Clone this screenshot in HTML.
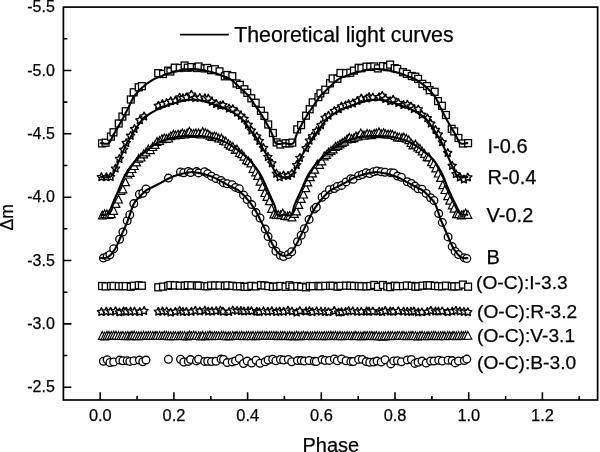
<!DOCTYPE html>
<html><head><meta charset="utf-8"><title>Light curves</title>
<style>html,body{margin:0;padding:0;background:#fff;} body{width:600px;height:452px;overflow:hidden;font-family:"Liberation Sans",sans-serif;} svg{display:block;will-change:transform}</style>
</head><body>
<svg width="600" height="452" viewBox="0 0 600 452" font-family="Liberation Sans, sans-serif" fill="#000">
<style>.m *{fill:#fff;stroke:#000;stroke-width:1.3} text{stroke:#000;stroke-width:0.25} .m .st{stroke-width:1.4;stroke-linejoin:round} .m .tr{stroke-width:1.15} .c .tr{stroke-width:1.2}</style>
<rect x="63.4" y="7.1" width="534.2" height="392.9" fill="none" stroke="#000" stroke-width="1.7"/><path d="M100.2,400.0 V392.3 M137.1,400.0 V396.0 M173.9,400.0 V392.3 M210.8,400.0 V396.0 M247.6,400.0 V392.3 M284.4,400.0 V396.0 M321.3,400.0 V392.3 M358.2,400.0 V396.0 M395.0,400.0 V392.3 M431.9,400.0 V396.0 M468.7,400.0 V392.3 M505.6,400.0 V396.0 M542.4,400.0 V392.3 M579.2,400.0 V396.0 M63.4,38.8 H67.4 M63.4,70.5 H71.4 M63.4,102.1 H67.4 M63.4,133.8 H71.4 M63.4,165.5 H67.4 M63.4,197.2 H71.4 M63.4,228.8 H67.4 M63.4,260.5 H71.4 M63.4,292.2 H67.4 M63.4,323.9 H71.4 M63.4,355.5 H67.4 M63.4,387.2 H71.4" stroke="#000" stroke-width="1.6" fill="none"/>
<g class="m c"><rect x="98.6" y="139.9" width="6.8" height="7.0"/><rect x="102.2" y="139.2" width="6.8" height="7.0"/><rect x="107.5" y="133.1" width="6.8" height="7.0"/><rect x="110.1" y="128.8" width="6.8" height="7.0"/><rect x="115.3" y="120.0" width="6.8" height="7.0"/><rect x="119.0" y="113.1" width="6.8" height="7.0"/><rect x="122.3" y="107.8" width="6.8" height="7.0"/><rect x="127.4" y="96.0" width="6.8" height="7.0"/><rect x="130.3" y="88.8" width="6.8" height="7.0"/><rect x="135.3" y="83.8" width="6.8" height="7.0"/><rect x="138.5" y="82.7" width="6.8" height="7.0"/><rect x="154.8" y="69.7" width="6.8" height="7.0"/><rect x="159.6" y="70.5" width="6.8" height="7.0"/><rect x="164.7" y="67.2" width="6.8" height="7.0"/><rect x="167.0" y="68.0" width="6.8" height="7.0"/><rect x="171.3" y="64.2" width="6.8" height="7.0"/><rect x="176.3" y="64.5" width="6.8" height="7.0"/><rect x="181.2" y="62.0" width="6.8" height="7.0"/><rect x="184.3" y="64.2" width="6.8" height="7.0"/><rect x="187.9" y="63.6" width="6.8" height="7.0"/><rect x="193.4" y="64.5" width="6.8" height="7.0"/><rect x="195.2" y="63.0" width="6.8" height="7.0"/><rect x="201.2" y="64.9" width="6.8" height="7.0"/><rect x="203.9" y="64.5" width="6.8" height="7.0"/><rect x="207.6" y="66.6" width="6.8" height="7.0"/><rect x="211.6" y="65.8" width="6.8" height="7.0"/><rect x="216.1" y="67.9" width="6.8" height="7.0"/><rect x="221.4" y="72.8" width="6.8" height="7.0"/><rect x="223.9" y="71.5" width="6.8" height="7.0"/><rect x="228.9" y="72.7" width="6.8" height="7.0"/><rect x="233.1" y="80.0" width="6.8" height="7.0"/><rect x="236.5" y="81.4" width="6.8" height="7.0"/><rect x="241.0" y="85.8" width="6.8" height="7.0"/><rect x="243.9" y="89.3" width="6.8" height="7.0"/><rect x="247.9" y="94.8" width="6.8" height="7.0"/><rect x="252.3" y="99.3" width="6.8" height="7.0"/><rect x="257.5" y="107.3" width="6.8" height="7.0"/><rect x="261.0" y="112.4" width="6.8" height="7.0"/><rect x="264.8" y="121.0" width="6.8" height="7.0"/><rect x="269.5" y="129.5" width="6.8" height="7.0"/><rect x="273.2" y="138.9" width="6.8" height="7.0"/><rect x="276.9" y="141.0" width="6.8" height="7.0"/><rect x="282.1" y="139.8" width="6.8" height="7.0"/><rect x="286.0" y="139.9" width="6.8" height="7.0"/><rect x="288.9" y="139.1" width="6.8" height="7.0"/><rect x="293.8" y="125.9" width="6.8" height="7.0"/><rect x="297.7" y="121.6" width="6.8" height="7.0"/><rect x="302.6" y="112.2" width="6.8" height="7.0"/><rect x="306.3" y="105.7" width="6.8" height="7.0"/><rect x="309.3" y="98.9" width="6.8" height="7.0"/><rect x="315.0" y="93.6" width="6.8" height="7.0"/><rect x="317.0" y="89.9" width="6.8" height="7.0"/><rect x="321.8" y="86.2" width="6.8" height="7.0"/><rect x="326.6" y="79.8" width="6.8" height="7.0"/><rect x="329.2" y="75.0" width="6.8" height="7.0"/><rect x="334.1" y="75.2" width="6.8" height="7.0"/><rect x="337.0" y="69.5" width="6.8" height="7.0"/><rect x="342.6" y="69.7" width="6.8" height="7.0"/><rect x="346.9" y="69.2" width="6.8" height="7.0"/><rect x="350.5" y="67.1" width="6.8" height="7.0"/><rect x="355.3" y="64.3" width="6.8" height="7.0"/><rect x="358.0" y="64.7" width="6.8" height="7.0"/><rect x="363.0" y="63.2" width="6.8" height="7.0"/><rect x="366.8" y="63.3" width="6.8" height="7.0"/><rect x="370.8" y="63.0" width="6.8" height="7.0"/><rect x="374.5" y="64.9" width="6.8" height="7.0"/><rect x="379.5" y="62.7" width="6.8" height="7.0"/><rect x="383.8" y="63.6" width="6.8" height="7.0"/><rect x="386.7" y="61.1" width="6.8" height="7.0"/><rect x="391.3" y="64.7" width="6.8" height="7.0"/><rect x="393.8" y="65.5" width="6.8" height="7.0"/><rect x="399.5" y="68.7" width="6.8" height="7.0"/><rect x="403.4" y="70.3" width="6.8" height="7.0"/><rect x="408.3" y="72.5" width="6.8" height="7.0"/><rect x="411.9" y="73.2" width="6.8" height="7.0"/><rect x="414.7" y="75.4" width="6.8" height="7.0"/><rect x="419.0" y="80.4" width="6.8" height="7.0"/><rect x="423.7" y="82.6" width="6.8" height="7.0"/><rect x="426.2" y="86.7" width="6.8" height="7.0"/><rect x="431.3" y="88.3" width="6.8" height="7.0"/><rect x="434.6" y="97.6" width="6.8" height="7.0"/><rect x="438.6" y="102.3" width="6.8" height="7.0"/><rect x="442.5" y="111.5" width="6.8" height="7.0"/><rect x="448.3" y="125.3" width="6.8" height="7.0"/><rect x="450.8" y="127.9" width="6.8" height="7.0"/><rect x="455.1" y="134.5" width="6.8" height="7.0"/><rect x="459.5" y="140.0" width="6.8" height="7.0"/><rect x="464.7" y="139.6" width="6.8" height="7.0"/></g><g class="m c"><polygon class="st" points="101.39,172.84 102.65,175.35 105.43,175.78 103.44,177.75 103.89,180.53 101.39,179.24 98.89,180.53 99.35,177.75 97.35,175.78 100.13,175.35"/><polygon class="st" points="106.34,172.87 107.60,175.38 110.38,175.80 108.39,177.78 108.84,180.55 106.34,179.27 103.84,180.55 104.30,177.78 102.30,175.80 105.08,175.38"/><polygon class="st" points="110.64,172.67 111.90,175.18 114.68,175.61 112.68,177.58 113.14,180.36 110.64,179.07 108.14,180.36 108.59,177.58 106.60,175.61 109.37,175.18"/><polygon class="st" points="115.50,164.31 116.77,166.82 119.55,167.24 117.55,169.22 118.00,171.99 115.50,170.71 113.01,171.99 113.46,169.22 111.46,167.24 114.24,166.82"/><polygon class="st" points="119.40,154.59 120.67,157.10 123.44,157.53 121.45,159.50 121.90,162.28 119.40,160.99 116.90,162.28 117.36,159.50 115.36,157.53 118.14,157.10"/><polygon class="st" points="123.56,145.46 124.83,147.97 127.61,148.40 125.61,150.37 126.06,153.15 123.56,151.86 121.07,153.15 121.52,150.37 119.52,148.40 122.30,147.97"/><polygon class="st" points="126.19,138.72 127.46,141.24 130.24,141.66 128.24,143.64 128.69,146.41 126.19,145.12 123.70,146.41 124.15,143.64 122.15,141.66 124.93,141.24"/><polygon class="st" points="130.58,131.54 131.84,134.05 134.62,134.47 132.62,136.45 133.08,139.23 130.58,137.94 128.08,139.23 128.53,136.45 126.54,134.47 129.32,134.05"/><polygon class="st" points="134.50,124.69 135.76,127.20 138.54,127.63 136.54,129.60 136.99,132.38 134.50,131.09 132.00,132.38 132.45,129.60 130.45,127.63 133.23,127.20"/><polygon class="st" points="139.83,115.96 141.09,118.47 143.87,118.90 141.87,120.88 142.32,123.65 139.83,122.36 137.33,123.65 137.78,120.88 135.78,118.90 138.56,118.47"/><polygon class="st" points="144.06,112.14 145.32,114.65 148.10,115.07 146.10,117.05 146.56,119.82 144.06,118.54 141.56,119.82 142.01,117.05 140.02,115.07 142.80,114.65"/><polygon class="st" points="158.31,101.48 159.57,103.99 162.35,104.42 160.36,106.40 160.81,109.17 158.31,107.88 155.81,109.17 156.27,106.40 154.27,104.42 157.05,103.99"/><polygon class="st" points="162.43,99.70 163.69,102.21 166.47,102.64 164.47,104.62 164.92,107.39 162.43,106.10 159.93,107.39 160.38,104.62 158.38,102.64 161.16,102.21"/><polygon class="st" points="166.62,98.71 167.88,101.22 170.66,101.64 168.66,103.62 169.11,106.39 166.62,105.11 164.12,106.39 164.57,103.62 162.57,101.64 165.35,101.22"/><polygon class="st" points="170.67,96.88 171.94,99.39 174.71,99.81 172.72,101.79 173.17,104.57 170.67,103.28 168.17,104.57 168.63,101.79 166.63,99.81 169.41,99.39"/><polygon class="st" points="175.34,96.59 176.60,99.10 179.38,99.53 177.38,101.51 177.84,104.28 175.34,102.99 172.84,104.28 173.29,101.51 171.30,99.53 174.07,99.10"/><polygon class="st" points="179.64,93.27 180.91,95.78 183.69,96.21 181.69,98.18 182.14,100.96 179.64,99.67 177.15,100.96 177.60,98.18 175.60,96.21 178.38,95.78"/><polygon class="st" points="182.90,93.81 184.17,96.32 186.95,96.75 184.95,98.72 185.40,101.50 182.90,100.21 180.41,101.50 180.86,98.72 178.86,96.75 181.64,96.32"/><polygon class="st" points="186.33,93.07 187.59,95.58 190.37,96.01 188.37,97.99 188.83,100.76 186.33,99.47 183.83,100.76 184.28,97.99 182.29,96.01 185.06,95.58"/><polygon class="st" points="191.39,90.36 192.65,92.87 195.43,93.30 193.44,95.28 193.89,98.05 191.39,96.76 188.89,98.05 189.35,95.28 187.35,93.30 190.13,92.87"/><polygon class="st" points="195.32,93.71 196.59,96.22 199.37,96.65 197.37,98.63 197.82,101.40 195.32,100.11 192.83,101.40 193.28,98.63 191.28,96.65 194.06,96.22"/><polygon class="st" points="199.86,93.53 201.12,96.04 203.90,96.47 201.90,98.45 202.35,101.22 199.86,99.93 197.36,101.22 197.81,98.45 195.81,96.47 198.59,96.04"/><polygon class="st" points="204.85,93.97 206.11,96.48 208.89,96.91 206.90,98.89 207.35,101.66 204.85,100.37 202.35,101.66 202.81,98.89 200.81,96.91 203.59,96.48"/><polygon class="st" points="208.27,94.35 209.53,96.86 212.31,97.28 210.31,99.26 210.76,102.03 208.27,100.75 205.77,102.03 206.22,99.26 204.22,97.28 207.00,96.86"/><polygon class="st" points="211.89,97.51 213.16,100.02 215.94,100.45 213.94,102.42 214.39,105.20 211.89,103.91 209.40,105.20 209.85,102.42 207.85,100.45 210.63,100.02"/><polygon class="st" points="216.19,99.62 217.46,102.13 220.24,102.56 218.24,104.54 218.69,107.31 216.19,106.02 213.70,107.31 214.15,104.54 212.15,102.56 214.93,102.13"/><polygon class="st" points="220.39,101.33 221.65,103.84 224.43,104.27 222.44,106.25 222.89,109.02 220.39,107.73 217.89,109.02 218.35,106.25 216.35,104.27 219.13,103.84"/><polygon class="st" points="222.93,100.84 224.20,103.36 226.97,103.78 224.98,105.76 225.43,108.53 222.93,107.24 220.43,108.53 220.89,105.76 218.89,103.78 221.67,103.36"/><polygon class="st" points="229.04,104.23 230.30,106.74 233.08,107.17 231.09,109.15 231.54,111.92 229.04,110.63 226.54,111.92 227.00,109.15 225.00,107.17 227.78,106.74"/><polygon class="st" points="232.80,104.82 234.07,107.33 236.85,107.76 234.85,109.73 235.30,112.51 232.80,111.22 230.31,112.51 230.76,109.73 228.76,107.76 231.54,107.33"/><polygon class="st" points="237.09,108.33 238.35,110.84 241.13,111.26 239.13,113.24 239.59,116.01 237.09,114.73 234.59,116.01 235.04,113.24 233.05,111.26 235.82,110.84"/><polygon class="st" points="240.95,111.47 242.22,113.98 245.00,114.41 243.00,116.39 243.45,119.16 240.95,117.87 238.46,119.16 238.91,116.39 236.91,114.41 239.69,113.98"/><polygon class="st" points="244.02,114.55 245.29,117.06 248.06,117.49 246.07,119.46 246.52,122.24 244.02,120.95 241.52,122.24 241.98,119.46 239.98,117.49 242.76,117.06"/><polygon class="st" points="248.09,120.48 249.36,122.99 252.13,123.41 250.14,125.39 250.59,128.16 248.09,126.88 245.59,128.16 246.05,125.39 244.05,123.41 246.83,122.99"/><polygon class="st" points="251.43,126.21 252.69,128.72 255.47,129.15 253.47,131.13 253.92,133.90 251.43,132.61 248.93,133.90 249.38,131.13 247.38,129.15 250.16,128.72"/><polygon class="st" points="256.77,132.24 258.03,134.75 260.81,135.18 258.82,137.16 259.27,139.93 256.77,138.64 254.27,139.93 254.73,137.16 252.73,135.18 255.51,134.75"/><polygon class="st" points="259.43,136.65 260.70,139.16 263.47,139.58 261.48,141.56 261.93,144.34 259.43,143.05 256.93,144.34 257.39,141.56 255.39,139.58 258.17,139.16"/><polygon class="st" points="263.50,143.73 264.76,146.25 267.54,146.67 265.54,148.65 266.00,151.42 263.50,150.13 261.00,151.42 261.45,148.65 259.46,146.67 262.24,146.25"/><polygon class="st" points="267.90,152.64 269.16,155.15 271.94,155.57 269.94,157.55 270.39,160.33 267.90,159.04 265.40,160.33 265.85,157.55 263.85,155.57 266.63,155.15"/><polygon class="st" points="271.84,159.08 273.10,161.59 275.88,162.02 273.88,164.00 274.33,166.77 271.84,165.48 269.34,166.77 269.79,164.00 267.79,162.02 270.57,161.59"/><polygon class="st" points="276.32,169.40 277.59,171.91 280.36,172.34 278.37,174.32 278.82,177.09 276.32,175.80 273.82,177.09 274.28,174.32 272.28,172.34 275.06,171.91"/><polygon class="st" points="279.68,173.02 280.94,175.53 283.72,175.95 281.72,177.93 282.17,180.71 279.68,179.42 277.18,180.71 277.63,177.93 275.63,175.95 278.41,175.53"/><polygon class="st" points="283.60,171.14 284.87,173.65 287.65,174.08 285.65,176.06 286.10,178.83 283.60,177.54 281.10,178.83 281.56,176.06 279.56,174.08 282.34,173.65"/><polygon class="st" points="288.02,171.67 289.29,174.18 292.07,174.61 290.07,176.58 290.52,179.36 288.02,178.07 285.53,179.36 285.98,176.58 283.98,174.61 286.76,174.18"/><polygon class="st" points="291.96,169.39 293.22,171.90 296.00,172.33 294.00,174.30 294.45,177.08 291.96,175.79 289.46,177.08 289.91,174.30 287.91,172.33 290.69,171.90"/><polygon class="st" points="296.65,160.85 297.91,163.36 300.69,163.79 298.69,165.76 299.15,168.54 296.65,167.25 294.15,168.54 294.60,165.76 292.61,163.79 295.38,163.36"/><polygon class="st" points="299.88,153.67 301.14,156.18 303.92,156.61 301.92,158.59 302.38,161.36 299.88,160.07 297.38,161.36 297.83,158.59 295.84,156.61 298.61,156.18"/><polygon class="st" points="306.00,143.92 307.26,146.43 310.04,146.85 308.04,148.83 308.49,151.61 306.00,150.32 303.50,151.61 303.95,148.83 301.95,146.85 304.73,146.43"/><polygon class="st" points="309.42,136.32 310.68,138.83 313.46,139.26 311.46,141.24 311.92,144.01 309.42,142.72 306.92,144.01 307.37,141.24 305.37,139.26 308.15,138.83"/><polygon class="st" points="312.34,132.04 313.60,134.55 316.38,134.98 314.38,136.96 314.84,139.73 312.34,138.44 309.84,139.73 310.29,136.96 308.30,134.98 311.07,134.55"/><polygon class="st" points="316.64,126.79 317.91,129.30 320.69,129.73 318.69,131.71 319.14,134.48 316.64,133.19 314.15,134.48 314.60,131.71 312.60,129.73 315.38,129.30"/><polygon class="st" points="320.93,120.97 322.19,123.48 324.97,123.91 322.97,125.89 323.43,128.66 320.93,127.37 318.43,128.66 318.88,125.89 316.89,123.91 319.67,123.48"/><polygon class="st" points="325.02,113.41 326.29,115.92 329.07,116.35 327.07,118.33 327.52,121.10 325.02,119.81 322.53,121.10 322.98,118.33 320.98,116.35 323.76,115.92"/><polygon class="st" points="328.49,111.43 329.75,113.94 332.53,114.37 330.53,116.35 330.99,119.12 328.49,117.83 325.99,119.12 326.44,116.35 324.45,114.37 327.23,113.94"/><polygon class="st" points="334.31,106.75 335.57,109.26 338.35,109.68 336.35,111.66 336.81,114.44 334.31,113.15 331.81,114.44 332.26,111.66 330.27,109.68 333.05,109.26"/><polygon class="st" points="338.71,104.88 339.98,107.39 342.76,107.82 340.76,109.80 341.21,112.57 338.71,111.28 336.22,112.57 336.67,109.80 334.67,107.82 337.45,107.39"/><polygon class="st" points="341.48,102.16 342.75,104.67 345.53,105.10 343.53,107.08 343.98,109.85 341.48,108.56 338.99,109.85 339.44,107.08 337.44,105.10 340.22,104.67"/><polygon class="st" points="345.58,101.07 346.85,103.58 349.62,104.00 347.63,105.98 348.08,108.76 345.58,107.47 343.08,108.76 343.54,105.98 341.54,104.00 344.32,103.58"/><polygon class="st" points="348.67,99.84 349.93,102.35 352.71,102.77 350.71,104.75 351.17,107.53 348.67,106.24 346.17,107.53 346.62,104.75 344.63,102.77 347.40,102.35"/><polygon class="st" points="352.76,99.10 354.02,101.61 356.80,102.04 354.81,104.01 355.26,106.79 352.76,105.50 350.26,106.79 350.72,104.01 348.72,102.04 351.50,101.61"/><polygon class="st" points="357.40,96.74 358.66,99.25 361.44,99.68 359.44,101.65 359.90,104.43 357.40,103.14 354.90,104.43 355.35,101.65 353.36,99.68 356.14,99.25"/><polygon class="st" points="361.26,94.18 362.53,96.69 365.30,97.11 363.31,99.09 363.76,101.86 361.26,100.58 358.76,101.86 359.22,99.09 357.22,97.11 360.00,96.69"/><polygon class="st" points="366.69,94.24 367.95,96.75 370.73,97.18 368.73,99.15 369.19,101.93 366.69,100.64 364.19,101.93 364.64,99.15 362.65,97.18 365.42,96.75"/><polygon class="st" points="369.12,92.80 370.38,95.32 373.16,95.74 371.16,97.72 371.62,100.49 369.12,99.20 366.62,100.49 367.07,97.72 365.08,95.74 367.85,95.32"/><polygon class="st" points="372.84,93.23 374.10,95.74 376.88,96.17 374.88,98.15 375.33,100.92 372.84,99.63 370.34,100.92 370.79,98.15 368.79,96.17 371.57,95.74"/><polygon class="st" points="379.15,92.90 380.41,95.41 383.19,95.84 381.19,97.82 381.64,100.59 379.15,99.30 376.65,100.59 377.10,97.82 375.10,95.84 377.88,95.41"/><polygon class="st" points="382.17,91.50 383.43,94.01 386.21,94.43 384.22,96.41 384.67,99.18 382.17,97.90 379.67,99.18 380.13,96.41 378.13,94.43 380.91,94.01"/><polygon class="st" points="385.30,94.61 386.56,97.12 389.34,97.54 387.34,99.52 387.79,102.29 385.30,101.01 382.80,102.29 383.25,99.52 381.25,97.54 384.03,97.12"/><polygon class="st" points="390.31,96.91 391.58,99.43 394.36,99.85 392.36,101.83 392.81,104.60 390.31,103.31 387.82,104.60 388.27,101.83 386.27,99.85 389.05,99.43"/><polygon class="st" points="393.11,95.43 394.38,97.94 397.15,98.37 395.16,100.35 395.61,103.12 393.11,101.83 390.61,103.12 391.07,100.35 389.07,98.37 391.85,97.94"/><polygon class="st" points="398.38,98.71 399.65,101.22 402.43,101.65 400.43,103.62 400.88,106.40 398.38,105.11 395.89,106.40 396.34,103.62 394.34,101.65 397.12,101.22"/><polygon class="st" points="403.53,100.70 404.80,103.21 407.58,103.64 405.58,105.62 406.03,108.39 403.53,107.10 401.04,108.39 401.49,105.62 399.49,103.64 402.27,103.21"/><polygon class="st" points="407.31,100.26 408.57,102.77 411.35,103.20 409.35,105.17 409.81,107.95 407.31,106.66 404.81,107.95 405.26,105.17 403.27,103.20 406.04,102.77"/><polygon class="st" points="410.95,102.18 412.22,104.69 415.00,105.12 413.00,107.09 413.45,109.87 410.95,108.58 408.46,109.87 408.91,107.09 406.91,105.12 409.69,104.69"/><polygon class="st" points="413.95,104.69 415.21,107.20 417.99,107.63 415.99,109.60 416.45,112.38 413.95,111.09 411.45,112.38 411.90,109.60 409.91,107.63 412.69,107.20"/><polygon class="st" points="418.26,105.11 419.52,107.62 422.30,108.05 420.30,110.03 420.76,112.80 418.26,111.51 415.76,112.80 416.22,110.03 414.22,108.05 417.00,107.62"/><polygon class="st" points="421.83,110.54 423.09,113.05 425.87,113.47 423.87,115.45 424.33,118.22 421.83,116.94 419.33,118.22 419.78,115.45 417.79,113.47 420.56,113.05"/><polygon class="st" points="427.35,113.93 428.62,116.44 431.39,116.87 429.40,118.85 429.85,121.62 427.35,120.33 424.85,121.62 425.31,118.85 423.31,116.87 426.09,116.44"/><polygon class="st" points="430.82,119.30 432.09,121.81 434.87,122.23 432.87,124.21 433.32,126.99 430.82,125.70 428.33,126.99 428.78,124.21 426.78,122.23 429.56,121.81"/><polygon class="st" points="435.48,125.57 436.74,128.08 439.52,128.51 437.52,130.48 437.97,133.26 435.48,131.97 432.98,133.26 433.43,130.48 431.43,128.51 434.21,128.08"/><polygon class="st" points="438.44,130.22 439.70,132.73 442.48,133.15 440.48,135.13 440.94,137.90 438.44,136.62 435.94,137.90 436.39,135.13 434.40,133.15 437.17,132.73"/><polygon class="st" points="442.23,137.94 443.50,140.45 446.27,140.88 444.28,142.86 444.73,145.63 442.23,144.34 439.73,145.63 440.19,142.86 438.19,140.88 440.97,140.45"/><polygon class="st" points="447.72,148.74 448.98,151.25 451.76,151.68 449.76,153.65 450.21,156.43 447.72,155.14 445.22,156.43 445.67,153.65 443.67,151.68 446.45,151.25"/><polygon class="st" points="452.19,161.50 453.46,164.01 456.23,164.43 454.24,166.41 454.69,169.19 452.19,167.90 449.69,169.19 450.15,166.41 448.15,164.43 450.93,164.01"/><polygon class="st" points="455.92,169.90 457.19,172.41 459.97,172.84 457.97,174.82 458.42,177.59 455.92,176.30 453.43,177.59 453.88,174.82 451.88,172.84 454.66,172.41"/><polygon class="st" points="459.86,173.18 461.13,175.69 463.91,176.11 461.91,178.09 462.36,180.87 459.86,179.58 457.37,180.87 457.82,178.09 455.82,176.11 458.60,175.69"/><polygon class="st" points="463.95,175.21 465.21,177.72 467.99,178.15 465.99,180.13 466.44,182.90 463.95,181.61 461.45,182.90 461.90,180.13 459.90,178.15 462.68,177.72"/><polygon class="st" points="467.81,173.12 469.07,175.63 471.85,176.06 469.85,178.04 470.31,180.81 467.81,179.52 465.31,180.81 465.76,178.04 463.77,176.06 466.55,175.63"/></g><g class="m c"><polygon class="tr" points="102.3,211.0 106.2,218.8 98.4,218.8"/><polygon class="tr" points="104.7,209.9 108.6,217.7 100.8,217.7"/><polygon class="tr" points="106.9,210.0 110.8,217.8 103.0,217.8"/><polygon class="tr" points="109.0,210.6 112.9,218.4 105.1,218.4"/><polygon class="tr" points="111.3,209.8 115.2,217.6 107.4,217.6"/><polygon class="tr" points="113.7,206.5 117.6,214.3 109.8,214.3"/><polygon class="tr" points="116.0,199.6 119.9,207.4 112.1,207.4"/><polygon class="tr" points="118.5,195.2 122.4,203.0 114.6,203.0"/><polygon class="tr" points="120.9,186.7 124.8,194.5 117.0,194.5"/><polygon class="tr" points="122.9,185.0 126.8,192.8 119.0,192.8"/><polygon class="tr" points="125.5,177.9 129.4,185.7 121.6,185.7"/><polygon class="tr" points="127.8,170.2 131.7,178.0 123.9,178.0"/><polygon class="tr" points="130.1,168.6 134.0,176.4 126.2,176.4"/><polygon class="tr" points="132.0,164.7 135.9,172.5 128.1,172.5"/><polygon class="tr" points="134.2,161.7 138.1,169.5 130.3,169.5"/><polygon class="tr" points="136.5,158.0 140.4,165.8 132.6,165.8"/><polygon class="tr" points="138.8,154.4 142.7,162.2 134.9,162.2"/><polygon class="tr" points="141.1,153.2 145.0,161.0 137.2,161.0"/><polygon class="tr" points="143.6,150.0 147.5,157.8 139.7,157.8"/><polygon class="tr" points="146.0,148.0 149.9,155.8 142.1,155.8"/><polygon class="tr" points="148.3,145.1 152.2,152.9 144.4,152.9"/><polygon class="tr" points="150.4,145.8 154.3,153.6 146.5,153.6"/><polygon class="tr" points="152.8,142.7 156.7,150.5 148.9,150.5"/><polygon class="tr" points="155.1,140.6 159.0,148.4 151.2,148.4"/><polygon class="tr" points="157.0,137.6 160.9,145.4 153.1,145.4"/><polygon class="tr" points="159.6,136.7 163.5,144.5 155.7,144.5"/><polygon class="tr" points="162.0,134.8 165.9,142.6 158.1,142.6"/><polygon class="tr" points="164.3,134.1 168.2,141.9 160.4,141.9"/><polygon class="tr" points="166.5,134.5 170.4,142.3 162.6,142.3"/><polygon class="tr" points="168.7,134.2 172.6,142.0 164.8,142.0"/><polygon class="tr" points="170.8,131.9 174.7,139.7 166.9,139.7"/><polygon class="tr" points="173.4,130.4 177.3,138.2 169.5,138.2"/><polygon class="tr" points="175.4,131.1 179.3,138.9 171.5,138.9"/><polygon class="tr" points="178.0,130.3 181.9,138.1 174.1,138.1"/><polygon class="tr" points="180.3,130.6 184.2,138.4 176.4,138.4"/><polygon class="tr" points="182.3,129.0 186.2,136.8 178.4,136.8"/><polygon class="tr" points="184.6,130.2 188.5,138.0 180.7,138.0"/><polygon class="tr" points="187.2,129.1 191.1,136.9 183.3,136.9"/><polygon class="tr" points="189.4,127.3 193.3,135.1 185.5,135.1"/><polygon class="tr" points="191.3,129.6 195.2,137.4 187.4,137.4"/><polygon class="tr" points="193.6,129.5 197.5,137.3 189.7,137.3"/><polygon class="tr" points="195.9,129.1 199.8,136.9 192.0,136.9"/><polygon class="tr" points="198.6,128.9 202.5,136.7 194.7,136.7"/><polygon class="tr" points="200.8,130.1 204.7,137.9 196.9,137.9"/><polygon class="tr" points="202.7,127.7 206.6,135.5 198.8,135.5"/><polygon class="tr" points="205.4,128.7 209.3,136.5 201.5,136.5"/><polygon class="tr" points="207.8,129.8 211.7,137.6 203.9,137.6"/><polygon class="tr" points="209.9,131.4 213.8,139.2 206.0,139.2"/><polygon class="tr" points="212.0,132.6 215.9,140.4 208.1,140.4"/><polygon class="tr" points="214.4,131.9 218.3,139.7 210.5,139.7"/><polygon class="tr" points="216.4,132.8 220.3,140.6 212.5,140.6"/><polygon class="tr" points="218.7,134.2 222.6,142.0 214.8,142.0"/><polygon class="tr" points="221.5,134.2 225.4,142.0 217.6,142.0"/><polygon class="tr" points="223.6,136.5 227.5,144.3 219.7,144.3"/><polygon class="tr" points="225.8,137.2 229.7,145.0 221.9,145.0"/><polygon class="tr" points="228.3,139.8 232.2,147.6 224.4,147.6"/><polygon class="tr" points="230.3,141.3 234.2,149.1 226.4,149.1"/><polygon class="tr" points="232.8,142.5 236.7,150.3 228.9,150.3"/><polygon class="tr" points="235.1,145.5 239.0,153.3 231.2,153.3"/><polygon class="tr" points="237.0,145.2 240.9,153.0 233.1,153.0"/><polygon class="tr" points="239.4,148.7 243.3,156.5 235.5,156.5"/><polygon class="tr" points="241.7,149.9 245.6,157.7 237.8,157.7"/><polygon class="tr" points="243.9,152.3 247.8,160.1 240.0,160.1"/><polygon class="tr" points="246.4,155.9 250.3,163.7 242.5,163.7"/><polygon class="tr" points="248.5,156.9 252.4,164.7 244.6,164.7"/><polygon class="tr" points="250.9,159.1 254.8,166.9 247.0,166.9"/><polygon class="tr" points="253.0,164.5 256.9,172.3 249.1,172.3"/><polygon class="tr" points="255.7,168.1 259.6,175.9 251.8,175.9"/><polygon class="tr" points="257.7,171.5 261.6,179.3 253.8,179.3"/><polygon class="tr" points="260.0,177.4 263.9,185.2 256.1,185.2"/><polygon class="tr" points="262.4,182.5 266.3,190.3 258.5,190.3"/><polygon class="tr" points="264.8,188.7 268.7,196.5 260.9,196.5"/><polygon class="tr" points="266.9,192.6 270.8,200.4 263.0,200.4"/><polygon class="tr" points="269.4,196.9 273.3,204.7 265.5,204.7"/><polygon class="tr" points="271.5,204.6 275.4,212.4 267.6,212.4"/><polygon class="tr" points="273.8,210.1 277.7,217.9 269.9,217.9"/><polygon class="tr" points="276.1,210.7 280.0,218.5 272.2,218.5"/><polygon class="tr" points="278.1,210.6 282.0,218.4 274.2,218.4"/><polygon class="tr" points="280.6,210.8 284.5,218.6 276.7,218.6"/><polygon class="tr" points="282.7,209.1 286.6,216.9 278.8,216.9"/><polygon class="tr" points="284.9,211.6 288.8,219.4 281.0,219.4"/><polygon class="tr" points="287.6,212.0 291.5,219.8 283.7,219.8"/><polygon class="tr" points="289.6,211.5 293.5,219.3 285.7,219.3"/><polygon class="tr" points="292.0,213.0 295.9,220.8 288.1,220.8"/><polygon class="tr" points="294.4,209.6 298.3,217.4 290.5,217.4"/><polygon class="tr" points="296.6,207.1 300.5,214.9 292.7,214.9"/><polygon class="tr" points="298.8,200.6 302.7,208.4 294.9,208.4"/><polygon class="tr" points="301.2,194.5 305.1,202.3 297.3,202.3"/><polygon class="tr" points="303.5,190.2 307.4,198.0 299.6,198.0"/><polygon class="tr" points="305.9,183.8 309.8,191.6 302.0,191.6"/><polygon class="tr" points="307.8,178.1 311.7,185.9 303.9,185.9"/><polygon class="tr" points="310.4,172.9 314.3,180.7 306.5,180.7"/><polygon class="tr" points="312.5,169.0 316.4,176.8 308.6,176.8"/><polygon class="tr" points="314.8,165.4 318.7,173.2 310.9,173.2"/><polygon class="tr" points="317.3,160.2 321.2,168.0 313.4,168.0"/><polygon class="tr" points="319.5,160.5 323.4,168.3 315.6,168.3"/><polygon class="tr" points="321.8,157.0 325.7,164.8 317.9,164.8"/><polygon class="tr" points="324.2,152.1 328.1,159.9 320.3,159.9"/><polygon class="tr" points="326.5,150.5 330.4,158.3 322.6,158.3"/><polygon class="tr" points="328.6,148.2 332.5,156.0 324.7,156.0"/><polygon class="tr" points="330.9,146.6 334.8,154.4 327.0,154.4"/><polygon class="tr" points="333.2,145.1 337.1,152.9 329.3,152.9"/><polygon class="tr" points="335.5,142.5 339.4,150.3 331.6,150.3"/><polygon class="tr" points="337.8,141.5 341.7,149.3 333.9,149.3"/><polygon class="tr" points="340.0,140.1 343.9,147.9 336.1,147.9"/><polygon class="tr" points="342.3,138.7 346.2,146.5 338.4,146.5"/><polygon class="tr" points="344.6,137.3 348.5,145.1 340.7,145.1"/><polygon class="tr" points="347.1,135.1 351.0,142.9 343.2,142.9"/><polygon class="tr" points="349.3,133.4 353.2,141.2 345.4,141.2"/><polygon class="tr" points="351.6,134.6 355.5,142.4 347.7,142.4"/><polygon class="tr" points="354.0,133.8 357.9,141.6 350.1,141.6"/><polygon class="tr" points="355.9,132.1 359.8,139.9 352.0,139.9"/><polygon class="tr" points="358.3,132.2 362.2,140.0 354.4,140.0"/><polygon class="tr" points="360.8,129.0 364.7,136.8 356.9,136.8"/><polygon class="tr" points="363.1,131.2 367.0,139.0 359.2,139.0"/><polygon class="tr" points="365.0,131.2 368.9,139.0 361.1,139.0"/><polygon class="tr" points="367.2,129.6 371.1,137.4 363.3,137.4"/><polygon class="tr" points="369.7,130.1 373.6,137.9 365.8,137.9"/><polygon class="tr" points="371.8,130.8 375.7,138.6 367.9,138.6"/><polygon class="tr" points="374.1,129.6 378.0,137.4 370.2,137.4"/><polygon class="tr" points="376.3,129.1 380.2,136.9 372.4,136.9"/><polygon class="tr" points="379.0,127.9 382.9,135.7 375.1,135.7"/><polygon class="tr" points="381.3,129.9 385.2,137.7 377.4,137.7"/><polygon class="tr" points="383.6,128.8 387.5,136.6 379.7,136.6"/><polygon class="tr" points="385.5,129.9 389.4,137.7 381.6,137.7"/><polygon class="tr" points="388.1,130.2 392.0,138.0 384.2,138.0"/><polygon class="tr" points="390.4,130.0 394.3,137.8 386.5,137.8"/><polygon class="tr" points="392.4,130.5 396.3,138.3 388.5,138.3"/><polygon class="tr" points="395.1,131.5 399.0,139.3 391.2,139.3"/><polygon class="tr" points="397.4,133.2 401.3,141.0 393.5,141.0"/><polygon class="tr" points="399.3,133.0 403.2,140.8 395.4,140.8"/><polygon class="tr" points="402.0,133.7 405.9,141.5 398.1,141.5"/><polygon class="tr" points="403.9,133.2 407.8,141.0 400.0,141.0"/><polygon class="tr" points="406.3,134.4 410.2,142.2 402.4,142.2"/><polygon class="tr" points="408.8,135.9 412.7,143.7 404.9,143.7"/><polygon class="tr" points="411.0,138.7 414.9,146.5 407.1,146.5"/><polygon class="tr" points="412.9,141.0 416.8,148.8 409.0,148.8"/><polygon class="tr" points="415.4,140.2 419.3,148.0 411.5,148.0"/><polygon class="tr" points="417.7,143.1 421.6,150.9 413.8,150.9"/><polygon class="tr" points="419.9,144.5 423.8,152.3 416.0,152.3"/><polygon class="tr" points="422.1,147.1 426.0,154.9 418.2,154.9"/><polygon class="tr" points="424.5,149.6 428.4,157.4 420.6,157.4"/><polygon class="tr" points="427.0,152.8 430.9,160.6 423.1,160.6"/><polygon class="tr" points="428.9,153.0 432.8,160.8 425.0,160.8"/><polygon class="tr" points="431.4,157.9 435.3,165.7 427.5,165.7"/><polygon class="tr" points="433.7,159.8 437.6,167.6 429.8,167.6"/><polygon class="tr" points="435.7,164.0 439.6,171.8 431.8,171.8"/><polygon class="tr" points="438.2,169.2 442.1,177.0 434.3,177.0"/><polygon class="tr" points="440.6,173.6 444.5,181.4 436.7,181.4"/><polygon class="tr" points="442.8,180.9 446.7,188.7 438.9,188.7"/><polygon class="tr" points="444.9,185.7 448.8,193.5 441.0,193.5"/><polygon class="tr" points="447.7,191.9 451.6,199.7 443.8,199.7"/><polygon class="tr" points="449.8,196.3 453.7,204.1 445.9,204.1"/><polygon class="tr" points="452.2,201.0 456.1,208.8 448.3,208.8"/><polygon class="tr" points="454.0,204.4 457.9,212.2 450.1,212.2"/><polygon class="tr" points="456.4,209.9 460.3,217.7 452.5,217.7"/><polygon class="tr" points="458.6,209.8 462.5,217.6 454.7,217.6"/><polygon class="tr" points="461.3,211.0 465.2,218.8 457.4,218.8"/><polygon class="tr" points="463.3,210.5 467.2,218.3 459.4,218.3"/><polygon class="tr" points="465.5,209.1 469.4,216.9 461.6,216.9"/><polygon class="tr" points="467.9,210.5 471.8,218.3 464.0,218.3"/></g><g class="m c"><circle cx="103.4" cy="258.1" r="3.85"/><circle cx="107.2" cy="256.6" r="3.85"/><circle cx="109.9" cy="254.7" r="3.85"/><circle cx="113.7" cy="248.8" r="3.85"/><circle cx="119.6" cy="239.3" r="3.85"/><circle cx="122.9" cy="232.0" r="3.85"/><circle cx="127.2" cy="220.8" r="3.85"/><circle cx="129.8" cy="214.7" r="3.85"/><circle cx="133.8" cy="203.6" r="3.85"/><circle cx="139.4" cy="194.2" r="3.85"/><circle cx="142.8" cy="193.3" r="3.85"/><circle cx="146.0" cy="189.0" r="3.85"/><circle cx="180.5" cy="172.0" r="3.85"/><circle cx="183.8" cy="172.8" r="3.85"/><circle cx="188.3" cy="171.5" r="3.85"/><circle cx="190.6" cy="172.6" r="3.85"/><circle cx="196.5" cy="171.6" r="3.85"/><circle cx="198.6" cy="172.9" r="3.85"/><circle cx="204.6" cy="171.7" r="3.85"/><circle cx="207.7" cy="173.6" r="3.85"/><circle cx="211.5" cy="176.2" r="3.85"/><circle cx="216.0" cy="178.5" r="3.85"/><circle cx="221.0" cy="180.4" r="3.85"/><circle cx="223.5" cy="182.7" r="3.85"/><circle cx="227.2" cy="183.7" r="3.85"/><circle cx="232.2" cy="184.8" r="3.85"/><circle cx="235.5" cy="187.4" r="3.85"/><circle cx="239.3" cy="188.8" r="3.85"/><circle cx="243.5" cy="194.9" r="3.85"/><circle cx="247.2" cy="199.5" r="3.85"/><circle cx="251.7" cy="204.6" r="3.85"/><circle cx="256.0" cy="212.6" r="3.85"/><circle cx="260.0" cy="218.0" r="3.85"/><circle cx="265.2" cy="229.1" r="3.85"/><circle cx="268.1" cy="236.6" r="3.85"/><circle cx="272.7" cy="244.0" r="3.85"/><circle cx="275.9" cy="251.3" r="3.85"/><circle cx="280.4" cy="255.4" r="3.85"/><circle cx="283.6" cy="256.5" r="3.85"/><circle cx="288.3" cy="254.5" r="3.85"/><circle cx="291.7" cy="251.7" r="3.85"/><circle cx="297.5" cy="241.8" r="3.85"/><circle cx="301.2" cy="235.2" r="3.85"/><circle cx="304.3" cy="228.7" r="3.85"/><circle cx="309.1" cy="219.4" r="3.85"/><circle cx="314.3" cy="209.0" r="3.85"/><circle cx="316.3" cy="207.3" r="3.85"/><circle cx="322.1" cy="197.2" r="3.85"/><circle cx="325.2" cy="194.7" r="3.85"/><circle cx="329.4" cy="189.8" r="3.85"/><circle cx="334.3" cy="188.5" r="3.85"/><circle cx="337.3" cy="186.4" r="3.85"/><circle cx="341.6" cy="185.4" r="3.85"/><circle cx="346.1" cy="181.9" r="3.85"/><circle cx="350.8" cy="178.8" r="3.85"/><circle cx="353.3" cy="179.3" r="3.85"/><circle cx="358.6" cy="175.7" r="3.85"/><circle cx="362.3" cy="174.5" r="3.85"/><circle cx="366.2" cy="172.7" r="3.85"/><circle cx="369.7" cy="173.5" r="3.85"/><circle cx="373.6" cy="171.7" r="3.85"/><circle cx="377.0" cy="170.9" r="3.85"/><circle cx="381.2" cy="171.7" r="3.85"/><circle cx="385.1" cy="172.2" r="3.85"/><circle cx="390.8" cy="172.8" r="3.85"/><circle cx="393.7" cy="172.9" r="3.85"/><circle cx="397.5" cy="176.1" r="3.85"/><circle cx="401.4" cy="177.3" r="3.85"/><circle cx="407.3" cy="181.7" r="3.85"/><circle cx="411.4" cy="183.5" r="3.85"/><circle cx="414.9" cy="186.1" r="3.85"/><circle cx="418.1" cy="188.8" r="3.85"/><circle cx="422.0" cy="189.3" r="3.85"/><circle cx="426.2" cy="193.4" r="3.85"/><circle cx="430.6" cy="197.8" r="3.85"/><circle cx="434.0" cy="200.5" r="3.85"/><circle cx="438.7" cy="213.6" r="3.85"/><circle cx="442.3" cy="222.4" r="3.85"/><circle cx="448.1" cy="236.9" r="3.85"/><circle cx="452.2" cy="246.6" r="3.85"/><circle cx="455.2" cy="251.4" r="3.85"/><circle cx="458.5" cy="254.6" r="3.85"/><circle cx="464.3" cy="257.8" r="3.85"/><circle cx="466.8" cy="258.5" r="3.85"/><circle cx="168.4" cy="178.1" r="3.85"/></g>
<path d="M100.2,143.0 L101.2,143.1 L102.2,143.2 L103.2,143.4 L104.2,143.6 L105.2,143.7 L106.2,143.8 L107.2,143.7 L108.2,143.4 L109.2,142.9 L110.2,141.5 L111.2,139.5 L112.2,137.2 L113.2,135.1 L114.2,133.4 L115.2,131.7 L116.2,130.1 L117.2,128.4 L118.2,126.7 L119.2,124.9 L120.2,123.2 L121.2,121.4 L122.2,119.6 L123.2,117.8 L124.2,115.9 L125.2,114.0 L126.2,112.1 L127.2,110.1 L128.2,108.1 L129.2,106.0 L130.2,103.9 L131.2,101.8 L132.2,99.7 L133.2,97.8 L134.2,96.3 L135.2,94.9 L136.2,93.7 L137.2,92.6 L138.2,91.5 L139.2,90.4 L140.2,89.4 L141.2,88.5 L142.2,87.6 L143.2,86.7 L144.2,85.9 L145.2,85.1 L146.2,84.3 L147.2,83.5 L148.2,82.8 L149.2,82.1 L150.2,81.4 L151.2,80.8 L152.2,80.2 L153.2,79.6 L154.2,79.1 L155.2,78.6 L156.2,78.1 L157.2,77.7 L158.2,77.3 L159.2,77.0 L160.2,76.6 L161.2,76.2 L162.2,75.9 L163.2,75.4 L164.2,75.0 L165.2,74.6 L166.2,74.2 L167.2,73.9 L168.2,73.5 L169.2,73.2 L170.2,73.0 L171.2,72.7 L172.2,72.4 L173.2,72.2 L174.2,71.9 L175.2,71.6 L176.2,71.4 L177.2,71.1 L178.2,70.9 L179.2,70.6 L180.2,70.4 L181.2,70.2 L182.2,70.0 L183.2,69.9 L184.2,69.7 L185.2,69.6 L186.2,69.4 L187.2,69.3 L188.2,69.2 L189.2,69.2 L190.2,69.1 L191.2,69.0 L192.2,69.0 L193.2,69.0 L194.2,69.1 L195.2,69.1 L196.2,69.2 L197.2,69.3 L198.2,69.4 L199.2,69.5 L200.2,69.7 L201.2,69.8 L202.2,70.0 L203.2,70.2 L204.2,70.4 L205.2,70.6 L206.2,70.8 L207.2,71.1 L208.2,71.3 L209.2,71.6 L210.2,71.8 L211.2,72.1 L212.2,72.4 L213.2,72.6 L214.2,72.9 L215.2,73.2 L216.2,73.5 L217.2,73.8 L218.2,74.2 L219.2,74.5 L220.2,74.9 L221.2,75.3 L222.2,75.8 L223.2,76.1 L224.2,76.5 L225.2,76.8 L226.2,77.1 L227.2,77.5 L228.2,77.9 L229.2,78.4 L230.2,79.1 L231.2,79.8 L232.2,80.6 L233.2,81.5 L234.2,82.3 L235.2,83.2 L236.2,84.1 L237.2,85.0 L238.2,85.9 L239.2,86.9 L240.2,87.8 L241.2,88.8 L242.2,89.8 L243.2,90.8 L244.2,91.7 L245.2,92.6 L246.2,93.5 L247.2,94.4 L248.2,95.5 L249.2,96.7 L250.2,98.0 L251.2,99.4 L252.2,100.9 L253.2,102.4 L254.2,104.0 L255.2,105.5 L256.2,106.9 L257.2,108.3 L258.2,109.7 L259.2,111.2 L260.2,112.7 L261.2,114.2 L262.2,115.8 L263.2,117.5 L264.2,119.2 L265.2,120.9 L266.2,122.7 L267.2,124.5 L268.2,126.3 L269.2,128.1 L270.2,130.0 L271.2,132.1 L272.2,134.2 L273.2,137.1 L274.2,140.4 L275.2,142.7 L276.2,143.5 L277.2,143.9 L278.2,144.0 L279.2,144.0 L280.2,143.9 L281.2,143.7 L282.2,143.5 L283.2,143.4 L284.2,143.3 L285.2,143.3 L286.2,143.5 L287.2,143.6 L288.2,143.8 L289.2,144.0 L290.2,144.1 L291.2,144.0 L292.2,143.7 L293.2,143.2 L294.2,141.8 L295.2,138.8 L296.2,135.5 L297.2,133.1 L298.2,131.0 L299.2,129.1 L300.2,127.2 L301.2,125.4 L302.2,123.6 L303.2,121.8 L304.2,120.0 L305.2,118.3 L306.2,116.7 L307.2,115.0 L308.2,113.4 L309.2,111.9 L310.2,110.5 L311.2,109.0 L312.2,107.6 L313.2,106.2 L314.2,104.7 L315.2,103.2 L316.2,101.7 L317.2,100.1 L318.2,98.7 L319.2,97.3 L320.2,96.0 L321.2,94.9 L322.2,93.9 L323.2,93.0 L324.2,92.1 L325.2,91.2 L326.2,90.3 L327.2,89.3 L328.2,88.3 L329.2,87.4 L330.2,86.4 L331.2,85.4 L332.2,84.5 L333.2,83.6 L334.2,82.8 L335.2,81.9 L336.2,81.0 L337.2,80.2 L338.2,79.5 L339.2,78.8 L340.2,78.2 L341.2,77.7 L342.2,77.3 L343.2,77.0 L344.2,76.7 L345.2,76.3 L346.2,75.9 L347.2,75.5 L348.2,75.1 L349.2,74.7 L350.2,74.3 L351.2,74.0 L352.2,73.6 L353.2,73.3 L354.2,73.0 L355.2,72.8 L356.2,72.5 L357.2,72.2 L358.2,72.0 L359.2,71.7 L360.2,71.4 L361.2,71.2 L362.2,70.9 L363.2,70.7 L364.2,70.5 L365.2,70.3 L366.2,70.1 L367.2,69.9 L368.2,69.7 L369.2,69.6 L370.2,69.5 L371.2,69.4 L372.2,69.3 L373.2,69.2 L374.2,69.1 L375.2,69.1 L376.2,69.0 L377.2,69.0 L378.2,69.1 L379.2,69.1 L380.2,69.2 L381.2,69.3 L382.2,69.4 L383.2,69.5 L384.2,69.6 L385.2,69.8 L386.2,70.0 L387.2,70.1 L388.2,70.3 L389.2,70.5 L390.2,70.8 L391.2,71.0 L392.2,71.2 L393.2,71.5 L394.2,71.8 L395.2,72.0 L396.2,72.3 L397.2,72.6 L398.2,72.8 L399.2,73.1 L400.2,73.4 L401.2,73.7 L402.2,74.1 L403.2,74.4 L404.2,74.8 L405.2,75.2 L406.2,75.6 L407.2,76.0 L408.2,76.4 L409.2,76.8 L410.2,77.1 L411.2,77.5 L412.2,77.9 L413.2,78.3 L414.2,78.8 L415.2,79.3 L416.2,79.9 L417.2,80.5 L418.2,81.1 L419.2,81.7 L420.2,82.4 L421.2,83.1 L422.2,83.9 L423.2,84.7 L424.2,85.5 L425.2,86.3 L426.2,87.2 L427.2,88.0 L428.2,88.9 L429.2,89.9 L430.2,90.9 L431.2,92.0 L432.2,93.1 L433.2,94.3 L434.2,95.6 L435.2,97.0 L436.2,98.7 L437.2,100.7 L438.2,102.8 L439.2,105.0 L440.2,107.1 L441.2,109.1 L442.2,111.1 L443.2,113.0 L444.2,115.0 L445.2,116.8 L446.2,118.7 L447.2,120.5 L448.2,122.3 L449.2,124.0 L450.2,125.8 L451.2,127.5 L452.2,129.2 L453.2,130.9 L454.2,132.5 L455.2,134.2 L456.2,136.1 L457.2,138.3 L458.2,140.5 L459.2,142.3 L460.2,143.2 L461.2,143.6 L462.2,143.8 L463.2,143.8 L464.2,143.7 L465.2,143.5 L466.2,143.3 L467.2,143.1 L468.2,143.0" fill="none" stroke="#000" stroke-width="2.1"/><path d="M100.2,177.0 L101.2,177.0 L102.2,177.1 L103.2,177.1 L104.2,177.2 L105.2,177.2 L106.2,177.2 L107.2,177.1 L108.2,177.0 L109.2,176.9 L110.2,176.7 L111.2,176.2 L112.2,175.4 L113.2,173.9 L114.2,171.9 L115.2,169.7 L116.2,167.3 L117.2,165.0 L118.2,162.7 L119.2,160.4 L120.2,158.1 L121.2,155.8 L122.2,153.6 L123.2,151.4 L124.2,149.1 L125.2,146.9 L126.2,144.6 L127.2,142.6 L128.2,140.9 L129.2,139.5 L130.2,137.9 L131.2,136.1 L132.2,134.2 L133.2,132.6 L134.2,131.1 L135.2,129.6 L136.2,128.0 L137.2,126.5 L138.2,125.1 L139.2,123.6 L140.2,122.3 L141.2,120.9 L142.2,119.7 L143.2,118.5 L144.2,117.6 L145.2,116.8 L146.2,116.1 L147.2,115.4 L148.2,114.8 L149.2,114.1 L150.2,113.5 L151.2,112.9 L152.2,112.3 L153.2,111.7 L154.2,111.2 L155.2,110.6 L156.2,110.1 L157.2,109.6 L158.2,109.2 L159.2,108.7 L160.2,108.3 L161.2,107.9 L162.2,107.5 L163.2,107.2 L164.2,106.8 L165.2,106.4 L166.2,106.0 L167.2,105.6 L168.2,105.2 L169.2,104.8 L170.2,104.5 L171.2,104.1 L172.2,103.8 L173.2,103.5 L174.2,103.2 L175.2,102.9 L176.2,102.7 L177.2,102.4 L178.2,102.1 L179.2,101.8 L180.2,101.5 L181.2,101.2 L182.2,100.9 L183.2,100.7 L184.2,100.5 L185.2,100.3 L186.2,100.2 L187.2,100.0 L188.2,99.9 L189.2,99.8 L190.2,99.7 L191.2,99.6 L192.2,99.5 L193.2,99.6 L194.2,99.6 L195.2,99.7 L196.2,99.9 L197.2,100.0 L198.2,100.1 L199.2,100.3 L200.2,100.5 L201.2,100.7 L202.2,100.9 L203.2,101.1 L204.2,101.4 L205.2,101.7 L206.2,102.0 L207.2,102.3 L208.2,102.6 L209.2,102.9 L210.2,103.1 L211.2,103.4 L212.2,103.7 L213.2,104.0 L214.2,104.4 L215.2,104.7 L216.2,105.1 L217.2,105.5 L218.2,105.9 L219.2,106.3 L220.2,106.7 L221.2,107.1 L222.2,107.4 L223.2,107.8 L224.2,108.2 L225.2,108.6 L226.2,109.1 L227.2,109.5 L228.2,110.0 L229.2,110.5 L230.2,111.0 L231.2,111.6 L232.2,112.1 L233.2,112.7 L234.2,113.3 L235.2,114.0 L236.2,114.6 L237.2,115.3 L238.2,116.0 L239.2,116.6 L240.2,117.4 L241.2,118.3 L242.2,119.4 L243.2,120.5 L244.2,121.7 L245.2,123.0 L246.2,124.3 L247.2,125.7 L248.2,127.1 L249.2,128.4 L250.2,129.8 L251.2,131.1 L252.2,132.4 L253.2,133.7 L254.2,135.0 L255.2,136.3 L256.2,137.7 L257.2,139.1 L258.2,140.7 L259.2,142.3 L260.2,144.1 L261.2,145.8 L262.2,147.5 L263.2,149.1 L264.2,150.7 L265.2,152.4 L266.2,154.1 L267.2,155.9 L268.2,157.8 L269.2,159.8 L270.2,161.8 L271.2,164.0 L272.2,166.2 L273.2,168.4 L274.2,170.4 L275.2,172.3 L276.2,173.8 L277.2,174.8 L278.2,175.6 L279.2,176.2 L280.2,176.6 L281.2,176.9 L282.2,177.1 L283.2,177.2 L284.2,177.3 L285.2,177.2 L286.2,177.2 L287.2,177.0 L288.2,176.8 L289.2,176.4 L290.2,175.9 L291.2,175.2 L292.2,174.3 L293.2,173.1 L294.2,171.4 L295.2,169.4 L296.2,167.3 L297.2,165.1 L298.2,162.9 L299.2,160.8 L300.2,158.8 L301.2,156.9 L302.2,155.0 L303.2,153.2 L304.2,151.5 L305.2,149.9 L306.2,148.3 L307.2,146.7 L308.2,145.0 L309.2,143.2 L310.2,141.5 L311.2,139.9 L312.2,138.4 L313.2,137.0 L314.2,135.7 L315.2,134.3 L316.2,133.1 L317.2,131.8 L318.2,130.5 L319.2,129.1 L320.2,127.7 L321.2,126.4 L322.2,125.0 L323.2,123.7 L324.2,122.4 L325.2,121.1 L326.2,119.9 L327.2,118.8 L328.2,117.8 L329.2,117.0 L330.2,116.3 L331.2,115.6 L332.2,115.0 L333.2,114.3 L334.2,113.6 L335.2,113.0 L336.2,112.4 L337.2,111.8 L338.2,111.3 L339.2,110.8 L340.2,110.3 L341.2,109.8 L342.2,109.3 L343.2,108.8 L344.2,108.4 L345.2,108.0 L346.2,107.6 L347.2,107.3 L348.2,106.9 L349.2,106.5 L350.2,106.1 L351.2,105.7 L352.2,105.3 L353.2,104.9 L354.2,104.6 L355.2,104.2 L356.2,103.9 L357.2,103.6 L358.2,103.3 L359.2,103.0 L360.2,102.7 L361.2,102.4 L362.2,102.1 L363.2,101.8 L364.2,101.5 L365.2,101.2 L366.2,101.0 L367.2,100.8 L368.2,100.6 L369.2,100.4 L370.2,100.2 L371.2,100.1 L372.2,99.9 L373.2,99.8 L374.2,99.7 L375.2,99.6 L376.2,99.5 L377.2,99.5 L378.2,99.6 L379.2,99.7 L380.2,99.8 L381.2,100.0 L382.2,100.1 L383.2,100.3 L384.2,100.4 L385.2,100.6 L386.2,100.8 L387.2,101.0 L388.2,101.3 L389.2,101.6 L390.2,101.9 L391.2,102.2 L392.2,102.5 L393.2,102.8 L394.2,103.1 L395.2,103.4 L396.2,103.7 L397.2,104.0 L398.2,104.3 L399.2,104.6 L400.2,105.0 L401.2,105.4 L402.2,105.8 L403.2,106.2 L404.2,106.6 L405.2,107.0 L406.2,107.3 L407.2,107.7 L408.2,108.1 L409.2,108.5 L410.2,109.0 L411.2,109.4 L412.2,109.9 L413.2,110.4 L414.2,110.9 L415.2,111.4 L416.2,112.0 L417.2,112.6 L418.2,113.2 L419.2,113.8 L420.2,114.5 L421.2,115.1 L422.2,115.8 L423.2,116.4 L424.2,117.1 L425.2,118.0 L426.2,119.1 L427.2,120.3 L428.2,121.6 L429.2,123.0 L430.2,124.4 L431.2,125.8 L432.2,127.3 L433.2,128.8 L434.2,130.3 L435.2,131.8 L436.2,133.4 L437.2,135.1 L438.2,137.0 L439.2,138.7 L440.2,140.2 L441.2,141.7 L442.2,143.5 L443.2,145.7 L444.2,148.0 L445.2,150.2 L446.2,152.5 L447.2,154.7 L448.2,157.0 L449.2,159.3 L450.2,161.6 L451.2,163.9 L452.2,166.1 L453.2,168.5 L454.2,170.8 L455.2,173.0 L456.2,174.7 L457.2,175.9 L458.2,176.5 L459.2,176.8 L460.2,176.9 L461.2,177.1 L462.2,177.2 L463.2,177.2 L464.2,177.2 L465.2,177.1 L466.2,177.1 L467.2,177.0 L468.2,177.0" fill="none" stroke="#000" stroke-width="2.1"/><path d="M100.2,214.5 L101.2,214.5 L102.2,214.7 L103.2,214.9 L104.2,215.0 L105.2,215.0 L106.2,214.8 L107.2,214.2 L108.2,213.3 L109.2,211.8 L110.2,209.8 L111.2,207.5 L112.2,205.0 L113.2,202.4 L114.2,199.9 L115.2,197.6 L116.2,195.3 L117.2,193.1 L118.2,190.8 L119.2,188.5 L120.2,186.1 L121.2,183.7 L122.2,181.2 L123.2,178.9 L124.2,176.7 L125.2,174.8 L126.2,173.2 L127.2,171.6 L128.2,170.1 L129.2,168.6 L130.2,167.2 L131.2,165.9 L132.2,164.6 L133.2,163.3 L134.2,162.1 L135.2,160.9 L136.2,159.7 L137.2,158.6 L138.2,157.5 L139.2,156.6 L140.2,155.7 L141.2,154.8 L142.2,153.9 L143.2,153.1 L144.2,152.3 L145.2,151.5 L146.2,150.6 L147.2,149.8 L148.2,149.0 L149.2,148.3 L150.2,147.6 L151.2,146.9 L152.2,146.3 L153.2,145.7 L154.2,145.0 L155.2,144.4 L156.2,143.8 L157.2,143.3 L158.2,142.7 L159.2,142.2 L160.2,141.8 L161.2,141.3 L162.2,140.9 L163.2,140.5 L164.2,140.2 L165.2,139.8 L166.2,139.5 L167.2,139.2 L168.2,138.9 L169.2,138.7 L170.2,138.4 L171.2,138.1 L172.2,137.9 L173.2,137.7 L174.2,137.4 L175.2,137.2 L176.2,137.1 L177.2,136.9 L178.2,136.7 L179.2,136.6 L180.2,136.5 L181.2,136.4 L182.2,136.3 L183.2,136.2 L184.2,136.2 L185.2,136.1 L186.2,136.1 L187.2,136.1 L188.2,136.1 L189.2,136.0 L190.2,136.0 L191.2,136.0 L192.2,136.0 L193.2,136.0 L194.2,136.0 L195.2,136.0 L196.2,136.1 L197.2,136.1 L198.2,136.1 L199.2,136.1 L200.2,136.2 L201.2,136.2 L202.2,136.3 L203.2,136.3 L204.2,136.4 L205.2,136.6 L206.2,136.7 L207.2,136.8 L208.2,137.0 L209.2,137.2 L210.2,137.4 L211.2,137.6 L212.2,137.8 L213.2,138.1 L214.2,138.3 L215.2,138.6 L216.2,138.9 L217.2,139.1 L218.2,139.4 L219.2,139.8 L220.2,140.1 L221.2,140.4 L222.2,140.8 L223.2,141.2 L224.2,141.6 L225.2,142.1 L226.2,142.6 L227.2,143.1 L228.2,143.7 L229.2,144.3 L230.2,144.9 L231.2,145.5 L232.2,146.1 L233.2,146.8 L234.2,147.4 L235.2,148.1 L236.2,148.8 L237.2,149.6 L238.2,150.5 L239.2,151.3 L240.2,152.1 L241.2,152.9 L242.2,153.6 L243.2,154.4 L244.2,155.2 L245.2,156.0 L246.2,156.8 L247.2,157.7 L248.2,158.7 L249.2,159.8 L250.2,160.9 L251.2,162.0 L252.2,163.1 L253.2,164.3 L254.2,165.5 L255.2,166.8 L256.2,168.1 L257.2,169.4 L258.2,170.8 L259.2,172.2 L260.2,173.9 L261.2,175.7 L262.2,177.8 L263.2,179.9 L264.2,182.1 L265.2,184.3 L266.2,186.6 L267.2,188.9 L268.2,191.2 L269.2,193.5 L270.2,195.7 L271.2,197.8 L272.2,199.9 L273.2,202.1 L274.2,204.5 L275.2,207.4 L276.2,212.5 L277.2,214.8 L278.2,215.3 L279.2,215.5 L280.2,215.5 L281.2,215.3 L282.2,215.0 L283.2,214.8 L284.2,214.7 L285.2,214.7 L286.2,214.9 L287.2,215.2 L288.2,215.4 L289.2,215.5 L290.2,215.4 L291.2,215.1 L292.2,214.3 L293.2,209.9 L294.2,205.8 L295.2,203.3 L296.2,201.0 L297.2,198.9 L298.2,196.8 L299.2,194.6 L300.2,192.4 L301.2,190.1 L302.2,187.8 L303.2,185.5 L304.2,183.2 L305.2,181.0 L306.2,178.8 L307.2,176.7 L308.2,174.8 L309.2,173.0 L310.2,171.5 L311.2,170.1 L312.2,168.8 L313.2,167.4 L314.2,166.1 L315.2,164.9 L316.2,163.7 L317.2,162.6 L318.2,161.5 L319.2,160.3 L320.2,159.3 L321.2,158.2 L322.2,157.3 L323.2,156.4 L324.2,155.5 L325.2,154.8 L326.2,154.0 L327.2,153.2 L328.2,152.5 L329.2,151.7 L330.2,150.9 L331.2,150.0 L332.2,149.2 L333.2,148.5 L334.2,147.8 L335.2,147.1 L336.2,146.4 L337.2,145.8 L338.2,145.2 L339.2,144.6 L340.2,144.0 L341.2,143.4 L342.2,142.9 L343.2,142.4 L344.2,141.9 L345.2,141.4 L346.2,141.0 L347.2,140.6 L348.2,140.3 L349.2,139.9 L350.2,139.6 L351.2,139.3 L352.2,139.0 L353.2,138.7 L354.2,138.5 L355.2,138.2 L356.2,137.9 L357.2,137.7 L358.2,137.5 L359.2,137.3 L360.2,137.1 L361.2,136.9 L362.2,136.8 L363.2,136.6 L364.2,136.5 L365.2,136.4 L366.2,136.3 L367.2,136.2 L368.2,136.2 L369.2,136.1 L370.2,136.1 L371.2,136.1 L372.2,136.1 L373.2,136.0 L374.2,136.0 L375.2,136.0 L376.2,136.0 L377.2,136.0 L378.2,136.0 L379.2,136.0 L380.2,136.0 L381.2,136.1 L382.2,136.1 L383.2,136.1 L384.2,136.2 L385.2,136.2 L386.2,136.2 L387.2,136.3 L388.2,136.4 L389.2,136.5 L390.2,136.7 L391.2,136.8 L392.2,137.0 L393.2,137.1 L394.2,137.3 L395.2,137.5 L396.2,137.8 L397.2,138.0 L398.2,138.3 L399.2,138.5 L400.2,138.8 L401.2,139.1 L402.2,139.4 L403.2,139.7 L404.2,140.0 L405.2,140.3 L406.2,140.7 L407.2,141.1 L408.2,141.5 L409.2,142.0 L410.2,142.5 L411.2,143.0 L412.2,143.6 L413.2,144.1 L414.2,144.7 L415.2,145.3 L416.2,146.0 L417.2,146.6 L418.2,147.3 L419.2,147.9 L420.2,148.6 L421.2,149.4 L422.2,150.2 L423.2,151.1 L424.2,151.9 L425.2,152.7 L426.2,153.4 L427.2,154.2 L428.2,155.0 L429.2,155.8 L430.2,156.6 L431.2,157.5 L432.2,158.4 L433.2,159.4 L434.2,160.8 L435.2,162.2 L436.2,163.7 L437.2,165.2 L438.2,166.8 L439.2,168.5 L440.2,170.2 L441.2,172.0 L442.2,174.0 L443.2,176.2 L444.2,178.7 L445.2,181.4 L446.2,184.0 L447.2,186.5 L448.2,188.8 L449.2,191.1 L450.2,193.3 L451.2,195.5 L452.2,197.7 L453.2,199.8 L454.2,201.8 L455.2,203.8 L456.2,205.8 L457.2,207.8 L458.2,210.3 L459.2,212.7 L460.2,213.8 L461.2,214.2 L462.2,214.5 L463.2,214.6 L464.2,214.7 L465.2,214.7 L466.2,214.6 L467.2,214.6 L468.2,214.6" fill="none" stroke="#000" stroke-width="2.1"/><path d="M100.2,258.0 L101.2,258.0 L102.2,258.1 L103.2,258.2 L104.2,258.1 L105.2,258.0 L106.2,257.8 L107.2,257.4 L108.2,256.9 L109.2,256.2 L110.2,255.2 L111.2,254.2 L112.2,253.0 L113.2,251.7 L114.2,250.3 L115.2,248.8 L116.2,247.0 L117.2,244.9 L118.2,242.7 L119.2,240.4 L120.2,238.0 L121.2,235.6 L122.2,233.3 L123.2,231.1 L124.2,228.9 L125.2,226.6 L126.2,224.3 L127.2,222.0 L128.2,219.5 L129.2,216.7 L130.2,213.6 L131.2,210.5 L132.2,207.6 L133.2,205.2 L134.2,203.2 L135.2,201.7 L136.2,200.4 L137.2,199.3 L138.2,198.2 L139.2,197.1 L140.2,196.0 L141.2,195.0 L142.2,194.0 L143.2,193.0 L144.2,192.0 L145.2,191.2 L146.2,190.4 L147.2,189.7 L148.2,189.2 L149.2,188.8 L150.2,188.3 L151.2,187.8 L152.2,187.3 L153.2,186.7 L154.2,186.2 L155.2,185.7 L156.2,185.2 L157.2,184.7 L158.2,184.2 L159.2,183.7 L160.2,183.1 L161.2,182.6 L162.2,182.0 L163.2,181.5 L164.2,180.9 L165.2,180.3 L166.2,179.8 L167.2,179.2 L168.2,178.7 L169.2,178.2 L170.2,177.7 L171.2,177.3 L172.2,176.9 L173.2,176.5 L174.2,176.1 L175.2,175.8 L176.2,175.4 L177.2,175.1 L178.2,174.8 L179.2,174.5 L180.2,174.2 L181.2,174.0 L182.2,173.7 L183.2,173.5 L184.2,173.3 L185.2,173.1 L186.2,172.9 L187.2,172.8 L188.2,172.6 L189.2,172.4 L190.2,172.3 L191.2,172.2 L192.2,172.1 L193.2,172.1 L194.2,172.2 L195.2,172.4 L196.2,172.6 L197.2,172.7 L198.2,172.9 L199.2,173.1 L200.2,173.3 L201.2,173.5 L202.2,173.7 L203.2,173.9 L204.2,174.1 L205.2,174.4 L206.2,174.7 L207.2,175.0 L208.2,175.3 L209.2,175.7 L210.2,176.0 L211.2,176.4 L212.2,176.8 L213.2,177.2 L214.2,177.6 L215.2,178.1 L216.2,178.6 L217.2,179.1 L218.2,179.6 L219.2,180.2 L220.2,180.8 L221.2,181.3 L222.2,181.9 L223.2,182.5 L224.2,183.0 L225.2,183.5 L226.2,184.1 L227.2,184.6 L228.2,185.1 L229.2,185.6 L230.2,186.1 L231.2,186.6 L232.2,187.1 L233.2,187.6 L234.2,188.2 L235.2,188.7 L236.2,189.1 L237.2,189.6 L238.2,190.2 L239.2,191.0 L240.2,191.8 L241.2,192.8 L242.2,193.7 L243.2,194.8 L244.2,195.8 L245.2,196.9 L246.2,198.0 L247.2,199.1 L248.2,200.3 L249.2,201.5 L250.2,202.8 L251.2,204.2 L252.2,205.6 L253.2,207.0 L254.2,208.5 L255.2,210.1 L256.2,211.7 L257.2,213.5 L258.2,215.5 L259.2,217.5 L260.2,219.6 L261.2,221.6 L262.2,223.6 L263.2,225.6 L264.2,227.6 L265.2,229.6 L266.2,231.6 L267.2,233.7 L268.2,235.7 L269.2,237.8 L270.2,239.9 L271.2,241.8 L272.2,243.7 L273.2,245.5 L274.2,247.3 L275.2,249.1 L276.2,250.6 L277.2,252.0 L278.2,253.0 L279.2,253.9 L280.2,254.5 L281.2,255.0 L282.2,255.4 L283.2,255.7 L284.2,255.9 L285.2,255.8 L286.2,255.5 L287.2,255.2 L288.2,254.8 L289.2,254.2 L290.2,253.5 L291.2,252.5 L292.2,251.3 L293.2,249.9 L294.2,248.2 L295.2,246.4 L296.2,244.6 L297.2,242.8 L298.2,240.9 L299.2,238.8 L300.2,236.8 L301.2,234.7 L302.2,232.6 L303.2,230.6 L304.2,228.6 L305.2,226.6 L306.2,224.6 L307.2,222.6 L308.2,220.6 L309.2,218.5 L310.2,216.5 L311.2,214.5 L312.2,212.6 L313.2,210.9 L314.2,209.3 L315.2,207.7 L316.2,206.3 L317.2,204.9 L318.2,203.5 L319.2,202.2 L320.2,200.9 L321.2,199.7 L322.2,198.5 L323.2,197.4 L324.2,196.3 L325.2,195.3 L326.2,194.2 L327.2,193.2 L328.2,192.3 L329.2,191.4 L330.2,190.5 L331.2,189.9 L332.2,189.3 L333.2,188.9 L334.2,188.4 L335.2,187.9 L336.2,187.4 L337.2,186.9 L338.2,186.4 L339.2,185.9 L340.2,185.3 L341.2,184.8 L342.2,184.3 L343.2,183.8 L344.2,183.3 L345.2,182.7 L346.2,182.2 L347.2,181.6 L348.2,181.0 L349.2,180.5 L350.2,179.9 L351.2,179.3 L352.2,178.8 L353.2,178.3 L354.2,177.8 L355.2,177.4 L356.2,177.0 L357.2,176.6 L358.2,176.2 L359.2,175.8 L360.2,175.5 L361.2,175.2 L362.2,174.9 L363.2,174.6 L364.2,174.3 L365.2,174.0 L366.2,173.8 L367.2,173.6 L368.2,173.4 L369.2,173.2 L370.2,173.0 L371.2,172.8 L372.2,172.6 L373.2,172.5 L374.2,172.3 L375.2,172.2 L376.2,172.1 L377.2,172.1 L378.2,172.2 L379.2,172.3 L380.2,172.5 L381.2,172.7 L382.2,172.9 L383.2,173.0 L384.2,173.2 L385.2,173.4 L386.2,173.6 L387.2,173.8 L388.2,174.1 L389.2,174.4 L390.2,174.6 L391.2,174.9 L392.2,175.3 L393.2,175.6 L394.2,175.9 L395.2,176.3 L396.2,176.7 L397.2,177.1 L398.2,177.5 L399.2,178.0 L400.2,178.4 L401.2,178.9 L402.2,179.5 L403.2,180.0 L404.2,180.6 L405.2,181.2 L406.2,181.8 L407.2,182.3 L408.2,182.9 L409.2,183.4 L410.2,183.9 L411.2,184.5 L412.2,185.0 L413.2,185.5 L414.2,186.0 L415.2,186.5 L416.2,187.0 L417.2,187.5 L418.2,188.0 L419.2,188.5 L420.2,189.0 L421.2,189.5 L422.2,190.0 L423.2,190.7 L424.2,191.6 L425.2,192.5 L426.2,193.5 L427.2,194.5 L428.2,195.5 L429.2,196.6 L430.2,197.7 L431.2,198.8 L432.2,199.8 L433.2,201.0 L434.2,202.4 L435.2,204.1 L436.2,206.3 L437.2,209.0 L438.2,212.1 L439.2,215.2 L440.2,218.1 L441.2,220.8 L442.2,223.2 L443.2,225.5 L444.2,227.7 L445.2,230.0 L446.2,232.2 L447.2,234.5 L448.2,236.8 L449.2,239.2 L450.2,241.6 L451.2,243.8 L452.2,246.0 L453.2,248.0 L454.2,249.6 L455.2,251.0 L456.2,252.4 L457.2,253.6 L458.2,254.7 L459.2,255.7 L460.2,256.6 L461.2,257.2 L462.2,257.6 L463.2,257.9 L464.2,258.1 L465.2,258.2 L466.2,258.1 L467.2,258.1 L468.2,258.0" fill="none" stroke="#000" stroke-width="2.1"/>
<g class="m"><rect x="98.6" y="282.5" width="6.8" height="7.0"/><rect x="102.2" y="282.9" width="6.8" height="7.0"/><rect x="107.5" y="282.5" width="6.8" height="7.0"/><rect x="110.1" y="282.5" width="6.8" height="7.0"/><rect x="115.3" y="282.7" width="6.8" height="7.0"/><rect x="119.0" y="282.6" width="6.8" height="7.0"/><rect x="122.3" y="282.6" width="6.8" height="7.0"/><rect x="127.4" y="283.2" width="6.8" height="7.0"/><rect x="130.3" y="282.3" width="6.8" height="7.0"/><rect x="135.3" y="281.8" width="6.8" height="7.0"/><rect x="138.5" y="282.2" width="6.8" height="7.0"/><rect x="154.8" y="283.8" width="6.8" height="7.0"/><rect x="159.6" y="283.1" width="6.8" height="7.0"/><rect x="164.7" y="282.4" width="6.8" height="7.0"/><rect x="167.0" y="281.6" width="6.8" height="7.0"/><rect x="171.3" y="281.9" width="6.8" height="7.0"/><rect x="176.3" y="282.2" width="6.8" height="7.0"/><rect x="181.2" y="282.4" width="6.8" height="7.0"/><rect x="184.3" y="281.7" width="6.8" height="7.0"/><rect x="187.9" y="281.9" width="6.8" height="7.0"/><rect x="193.4" y="282.0" width="6.8" height="7.0"/><rect x="195.2" y="282.2" width="6.8" height="7.0"/><rect x="201.2" y="282.6" width="6.8" height="7.0"/><rect x="203.9" y="282.7" width="6.8" height="7.0"/><rect x="207.6" y="282.0" width="6.8" height="7.0"/><rect x="211.6" y="282.0" width="6.8" height="7.0"/><rect x="216.1" y="282.0" width="6.8" height="7.0"/><rect x="221.4" y="282.5" width="6.8" height="7.0"/><rect x="223.9" y="281.9" width="6.8" height="7.0"/><rect x="228.9" y="282.3" width="6.8" height="7.0"/><rect x="233.1" y="282.8" width="6.8" height="7.0"/><rect x="236.5" y="282.7" width="6.8" height="7.0"/><rect x="241.0" y="283.3" width="6.8" height="7.0"/><rect x="243.9" y="283.3" width="6.8" height="7.0"/><rect x="247.9" y="282.4" width="6.8" height="7.0"/><rect x="252.3" y="282.9" width="6.8" height="7.0"/><rect x="257.5" y="281.7" width="6.8" height="7.0"/><rect x="261.0" y="282.0" width="6.8" height="7.0"/><rect x="264.8" y="282.6" width="6.8" height="7.0"/><rect x="269.5" y="283.3" width="6.8" height="7.0"/><rect x="273.2" y="283.1" width="6.8" height="7.0"/><rect x="276.9" y="282.5" width="6.8" height="7.0"/><rect x="282.1" y="283.2" width="6.8" height="7.0"/><rect x="286.0" y="281.8" width="6.8" height="7.0"/><rect x="288.9" y="283.1" width="6.8" height="7.0"/><rect x="293.8" y="282.6" width="6.8" height="7.0"/><rect x="297.7" y="283.2" width="6.8" height="7.0"/><rect x="302.6" y="283.8" width="6.8" height="7.0"/><rect x="306.3" y="282.5" width="6.8" height="7.0"/><rect x="309.3" y="282.7" width="6.8" height="7.0"/><rect x="315.0" y="282.4" width="6.8" height="7.0"/><rect x="317.0" y="282.8" width="6.8" height="7.0"/><rect x="321.8" y="282.4" width="6.8" height="7.0"/><rect x="326.6" y="282.4" width="6.8" height="7.0"/><rect x="329.2" y="282.3" width="6.8" height="7.0"/><rect x="334.1" y="283.2" width="6.8" height="7.0"/><rect x="337.0" y="282.4" width="6.8" height="7.0"/><rect x="342.6" y="282.2" width="6.8" height="7.0"/><rect x="346.9" y="282.2" width="6.8" height="7.0"/><rect x="350.5" y="282.5" width="6.8" height="7.0"/><rect x="355.3" y="282.5" width="6.8" height="7.0"/><rect x="358.0" y="282.8" width="6.8" height="7.0"/><rect x="363.0" y="282.9" width="6.8" height="7.0"/><rect x="366.8" y="282.5" width="6.8" height="7.0"/><rect x="370.8" y="281.5" width="6.8" height="7.0"/><rect x="374.5" y="283.3" width="6.8" height="7.0"/><rect x="379.5" y="281.5" width="6.8" height="7.0"/><rect x="383.8" y="283.0" width="6.8" height="7.0"/><rect x="386.7" y="283.6" width="6.8" height="7.0"/><rect x="391.3" y="282.2" width="6.8" height="7.0"/><rect x="393.8" y="282.7" width="6.8" height="7.0"/><rect x="399.5" y="282.6" width="6.8" height="7.0"/><rect x="403.4" y="282.1" width="6.8" height="7.0"/><rect x="408.3" y="282.4" width="6.8" height="7.0"/><rect x="411.9" y="283.1" width="6.8" height="7.0"/><rect x="414.7" y="282.9" width="6.8" height="7.0"/><rect x="419.0" y="282.2" width="6.8" height="7.0"/><rect x="423.7" y="281.8" width="6.8" height="7.0"/><rect x="426.2" y="281.9" width="6.8" height="7.0"/><rect x="431.3" y="282.3" width="6.8" height="7.0"/><rect x="434.6" y="282.7" width="6.8" height="7.0"/><rect x="438.6" y="282.8" width="6.8" height="7.0"/><rect x="442.5" y="282.2" width="6.8" height="7.0"/><rect x="448.3" y="282.8" width="6.8" height="7.0"/><rect x="450.8" y="282.9" width="6.8" height="7.0"/><rect x="455.1" y="282.8" width="6.8" height="7.0"/><rect x="459.5" y="281.1" width="6.8" height="7.0"/><rect x="464.7" y="283.2" width="6.8" height="7.0"/></g><g class="m"><polygon class="st" points="101.39,307.70 102.65,310.21 105.43,310.63 103.44,312.61 103.89,315.38 101.39,314.10 98.89,315.38 99.35,312.61 97.35,310.63 100.13,310.21"/><polygon class="st" points="106.34,307.32 107.60,309.83 110.38,310.25 108.39,312.23 108.84,315.01 106.34,313.72 103.84,315.01 104.30,312.23 102.30,310.25 105.08,309.83"/><polygon class="st" points="110.64,307.41 111.90,309.92 114.68,310.35 112.68,312.33 113.14,315.10 110.64,313.81 108.14,315.10 108.59,312.33 106.60,310.35 109.37,309.92"/><polygon class="st" points="115.50,306.86 116.77,309.37 119.55,309.79 117.55,311.77 118.00,314.54 115.50,313.26 113.01,314.54 113.46,311.77 111.46,309.79 114.24,309.37"/><polygon class="st" points="119.40,308.11 120.67,310.62 123.44,311.05 121.45,313.03 121.90,315.80 119.40,314.51 116.90,315.80 117.36,313.03 115.36,311.05 118.14,310.62"/><polygon class="st" points="123.56,307.14 124.83,309.65 127.61,310.08 125.61,312.05 126.06,314.83 123.56,313.54 121.07,314.83 121.52,312.05 119.52,310.08 122.30,309.65"/><polygon class="st" points="126.19,307.38 127.46,309.89 130.24,310.31 128.24,312.29 128.69,315.06 126.19,313.78 123.70,315.06 124.15,312.29 122.15,310.31 124.93,309.89"/><polygon class="st" points="130.58,307.37 131.84,309.88 134.62,310.31 132.62,312.29 133.08,315.06 130.58,313.77 128.08,315.06 128.53,312.29 126.54,310.31 129.32,309.88"/><polygon class="st" points="134.50,307.33 135.76,309.84 138.54,310.27 136.54,312.24 136.99,315.02 134.50,313.73 132.00,315.02 132.45,312.24 130.45,310.27 133.23,309.84"/><polygon class="st" points="139.83,307.73 141.09,310.24 143.87,310.67 141.87,312.65 142.32,315.42 139.83,314.13 137.33,315.42 137.78,312.65 135.78,310.67 138.56,310.24"/><polygon class="st" points="144.06,306.66 145.32,309.17 148.10,309.60 146.10,311.58 146.56,314.35 144.06,313.06 141.56,314.35 142.01,311.58 140.02,309.60 142.80,309.17"/><polygon class="st" points="158.31,307.39 159.57,309.90 162.35,310.33 160.36,312.31 160.81,315.08 158.31,313.79 155.81,315.08 156.27,312.31 154.27,310.33 157.05,309.90"/><polygon class="st" points="162.43,307.08 163.69,309.59 166.47,310.02 164.47,312.00 164.92,314.77 162.43,313.48 159.93,314.77 160.38,312.00 158.38,310.02 161.16,309.59"/><polygon class="st" points="166.62,307.29 167.88,309.80 170.66,310.22 168.66,312.20 169.11,314.98 166.62,313.69 164.12,314.98 164.57,312.20 162.57,310.22 165.35,309.80"/><polygon class="st" points="170.67,308.31 171.94,310.82 174.71,311.25 172.72,313.23 173.17,316.00 170.67,314.71 168.17,316.00 168.63,313.23 166.63,311.25 169.41,310.82"/><polygon class="st" points="175.34,307.53 176.60,310.04 179.38,310.47 177.38,312.44 177.84,315.22 175.34,313.93 172.84,315.22 173.29,312.44 171.30,310.47 174.07,310.04"/><polygon class="st" points="179.64,306.50 180.91,309.01 183.69,309.43 181.69,311.41 182.14,314.19 179.64,312.90 177.15,314.19 177.60,311.41 175.60,309.43 178.38,309.01"/><polygon class="st" points="182.90,307.50 184.17,310.01 186.95,310.44 184.95,312.41 185.40,315.19 182.90,313.90 180.41,315.19 180.86,312.41 178.86,310.44 181.64,310.01"/><polygon class="st" points="186.33,307.60 187.59,310.12 190.37,310.54 188.37,312.52 188.83,315.29 186.33,314.00 183.83,315.29 184.28,312.52 182.29,310.54 185.06,310.12"/><polygon class="st" points="191.39,307.52 192.65,310.03 195.43,310.46 193.44,312.44 193.89,315.21 191.39,313.92 188.89,315.21 189.35,312.44 187.35,310.46 190.13,310.03"/><polygon class="st" points="195.32,306.41 196.59,308.92 199.37,309.34 197.37,311.32 197.82,314.09 195.32,312.81 192.83,314.09 193.28,311.32 191.28,309.34 194.06,308.92"/><polygon class="st" points="199.86,307.17 201.12,309.68 203.90,310.10 201.90,312.08 202.35,314.85 199.86,313.57 197.36,314.85 197.81,312.08 195.81,310.10 198.59,309.68"/><polygon class="st" points="204.85,306.22 206.11,308.73 208.89,309.16 206.90,311.14 207.35,313.91 204.85,312.62 202.35,313.91 202.81,311.14 200.81,309.16 203.59,308.73"/><polygon class="st" points="208.27,307.25 209.53,309.76 212.31,310.19 210.31,312.16 210.76,314.94 208.27,313.65 205.77,314.94 206.22,312.16 204.22,310.19 207.00,309.76"/><polygon class="st" points="211.89,307.15 213.16,309.66 215.94,310.09 213.94,312.06 214.39,314.84 211.89,313.55 209.40,314.84 209.85,312.06 207.85,310.09 210.63,309.66"/><polygon class="st" points="216.19,306.78 217.46,309.29 220.24,309.71 218.24,311.69 218.69,314.47 216.19,313.18 213.70,314.47 214.15,311.69 212.15,309.71 214.93,309.29"/><polygon class="st" points="220.39,306.20 221.65,308.71 224.43,309.14 222.44,311.11 222.89,313.89 220.39,312.60 217.89,313.89 218.35,311.11 216.35,309.14 219.13,308.71"/><polygon class="st" points="222.93,307.37 224.20,309.88 226.97,310.30 224.98,312.28 225.43,315.05 222.93,313.77 220.43,315.05 220.89,312.28 218.89,310.30 221.67,309.88"/><polygon class="st" points="229.04,307.60 230.30,310.11 233.08,310.54 231.09,312.52 231.54,315.29 229.04,314.00 226.54,315.29 227.00,312.52 225.00,310.54 227.78,310.11"/><polygon class="st" points="232.80,306.17 234.07,308.68 236.85,309.11 234.85,311.09 235.30,313.86 232.80,312.57 230.31,313.86 230.76,311.09 228.76,309.11 231.54,308.68"/><polygon class="st" points="237.09,306.51 238.35,309.02 241.13,309.45 239.13,311.42 239.59,314.20 237.09,312.91 234.59,314.20 235.04,311.42 233.05,309.45 235.82,309.02"/><polygon class="st" points="240.95,306.65 242.22,309.17 245.00,309.59 243.00,311.57 243.45,314.34 240.95,313.05 238.46,314.34 238.91,311.57 236.91,309.59 239.69,309.17"/><polygon class="st" points="244.02,307.11 245.29,309.62 248.06,310.05 246.07,312.02 246.52,314.80 244.02,313.51 241.52,314.80 241.98,312.02 239.98,310.05 242.76,309.62"/><polygon class="st" points="248.09,306.83 249.36,309.34 252.13,309.77 250.14,311.74 250.59,314.52 248.09,313.23 245.59,314.52 246.05,311.74 244.05,309.77 246.83,309.34"/><polygon class="st" points="251.43,306.84 252.69,309.35 255.47,309.77 253.47,311.75 253.92,314.53 251.43,313.24 248.93,314.53 249.38,311.75 247.38,309.77 250.16,309.35"/><polygon class="st" points="256.77,307.37 258.03,309.88 260.81,310.31 258.82,312.29 259.27,315.06 256.77,313.77 254.27,315.06 254.73,312.29 252.73,310.31 255.51,309.88"/><polygon class="st" points="259.43,307.79 260.70,310.30 263.47,310.73 261.48,312.70 261.93,315.48 259.43,314.19 256.93,315.48 257.39,312.70 255.39,310.73 258.17,310.30"/><polygon class="st" points="263.50,306.94 264.76,309.45 267.54,309.88 265.54,311.86 266.00,314.63 263.50,313.34 261.00,314.63 261.45,311.86 259.46,309.88 262.24,309.45"/><polygon class="st" points="267.90,307.38 269.16,309.90 271.94,310.32 269.94,312.30 270.39,315.07 267.90,313.78 265.40,315.07 265.85,312.30 263.85,310.32 266.63,309.90"/><polygon class="st" points="271.84,306.93 273.10,309.44 275.88,309.86 273.88,311.84 274.33,314.62 271.84,313.33 269.34,314.62 269.79,311.84 267.79,309.86 270.57,309.44"/><polygon class="st" points="276.32,307.75 277.59,310.26 280.36,310.69 278.37,312.67 278.82,315.44 276.32,314.15 273.82,315.44 274.28,312.67 272.28,310.69 275.06,310.26"/><polygon class="st" points="279.68,307.18 280.94,309.69 283.72,310.11 281.72,312.09 282.17,314.86 279.68,313.58 277.18,314.86 277.63,312.09 275.63,310.11 278.41,309.69"/><polygon class="st" points="283.60,307.43 284.87,309.94 287.65,310.36 285.65,312.34 286.10,315.12 283.60,313.83 281.10,315.12 281.56,312.34 279.56,310.36 282.34,309.94"/><polygon class="st" points="288.02,306.41 289.29,308.92 292.07,309.35 290.07,311.33 290.52,314.10 288.02,312.81 285.53,314.10 285.98,311.33 283.98,309.35 286.76,308.92"/><polygon class="st" points="291.96,307.20 293.22,309.71 296.00,310.14 294.00,312.12 294.45,314.89 291.96,313.60 289.46,314.89 289.91,312.12 287.91,310.14 290.69,309.71"/><polygon class="st" points="296.65,308.29 297.91,310.80 300.69,311.23 298.69,313.21 299.15,315.98 296.65,314.69 294.15,315.98 294.60,313.21 292.61,311.23 295.38,310.80"/><polygon class="st" points="299.88,306.78 301.14,309.29 303.92,309.72 301.92,311.69 302.38,314.47 299.88,313.18 297.38,314.47 297.83,311.69 295.84,309.72 298.61,309.29"/><polygon class="st" points="306.00,307.22 307.26,309.73 310.04,310.16 308.04,312.14 308.49,314.91 306.00,313.62 303.50,314.91 303.95,312.14 301.95,310.16 304.73,309.73"/><polygon class="st" points="309.42,306.73 310.68,309.24 313.46,309.67 311.46,311.65 311.92,314.42 309.42,313.13 306.92,314.42 307.37,311.65 305.37,309.67 308.15,309.24"/><polygon class="st" points="312.34,307.82 313.60,310.33 316.38,310.75 314.38,312.73 314.84,315.51 312.34,314.22 309.84,315.51 310.29,312.73 308.30,310.75 311.07,310.33"/><polygon class="st" points="316.64,307.00 317.91,309.51 320.69,309.94 318.69,311.92 319.14,314.69 316.64,313.40 314.15,314.69 314.60,311.92 312.60,309.94 315.38,309.51"/><polygon class="st" points="320.93,307.24 322.19,309.75 324.97,310.17 322.97,312.15 323.43,314.93 320.93,313.64 318.43,314.93 318.88,312.15 316.89,310.17 319.67,309.75"/><polygon class="st" points="325.02,307.48 326.29,309.99 329.07,310.41 327.07,312.39 327.52,315.16 325.02,313.88 322.53,315.16 322.98,312.39 320.98,310.41 323.76,309.99"/><polygon class="st" points="328.49,307.91 329.75,310.42 332.53,310.85 330.53,312.83 330.99,315.60 328.49,314.31 325.99,315.60 326.44,312.83 324.45,310.85 327.23,310.42"/><polygon class="st" points="334.31,306.62 335.57,309.13 338.35,309.55 336.35,311.53 336.81,314.31 334.31,313.02 331.81,314.31 332.26,311.53 330.27,309.55 333.05,309.13"/><polygon class="st" points="338.71,308.29 339.98,310.80 342.76,311.23 340.76,313.21 341.21,315.98 338.71,314.69 336.22,315.98 336.67,313.21 334.67,311.23 337.45,310.80"/><polygon class="st" points="341.48,307.92 342.75,310.43 345.53,310.86 343.53,312.84 343.98,315.61 341.48,314.32 338.99,315.61 339.44,312.84 337.44,310.86 340.22,310.43"/><polygon class="st" points="345.58,307.47 346.85,309.98 349.62,310.40 347.63,312.38 348.08,315.15 345.58,313.87 343.08,315.15 343.54,312.38 341.54,310.40 344.32,309.98"/><polygon class="st" points="348.67,306.77 349.93,309.29 352.71,309.71 350.71,311.69 351.17,314.46 348.67,313.17 346.17,314.46 346.62,311.69 344.63,309.71 347.40,309.29"/><polygon class="st" points="352.76,306.99 354.02,309.50 356.80,309.93 354.81,311.91 355.26,314.68 352.76,313.39 350.26,314.68 350.72,311.91 348.72,309.93 351.50,309.50"/><polygon class="st" points="357.40,307.45 358.66,309.96 361.44,310.38 359.44,312.36 359.90,315.13 357.40,313.85 354.90,315.13 355.35,312.36 353.36,310.38 356.14,309.96"/><polygon class="st" points="361.26,307.48 362.53,309.99 365.30,310.42 363.31,312.40 363.76,315.17 361.26,313.88 358.76,315.17 359.22,312.40 357.22,310.42 360.00,309.99"/><polygon class="st" points="366.69,307.07 367.95,309.58 370.73,310.01 368.73,311.98 369.19,314.76 366.69,313.47 364.19,314.76 364.64,311.98 362.65,310.01 365.42,309.58"/><polygon class="st" points="369.12,307.34 370.38,309.85 373.16,310.28 371.16,312.26 371.62,315.03 369.12,313.74 366.62,315.03 367.07,312.26 365.08,310.28 367.85,309.85"/><polygon class="st" points="372.84,307.11 374.10,309.62 376.88,310.05 374.88,312.02 375.33,314.80 372.84,313.51 370.34,314.80 370.79,312.02 368.79,310.05 371.57,309.62"/><polygon class="st" points="379.15,307.20 380.41,309.71 383.19,310.14 381.19,312.12 381.64,314.89 379.15,313.60 376.65,314.89 377.10,312.12 375.10,310.14 377.88,309.71"/><polygon class="st" points="382.17,307.75 383.43,310.26 386.21,310.68 384.22,312.66 384.67,315.44 382.17,314.15 379.67,315.44 380.13,312.66 378.13,310.68 380.91,310.26"/><polygon class="st" points="385.30,306.66 386.56,309.17 389.34,309.60 387.34,311.58 387.79,314.35 385.30,313.06 382.80,314.35 383.25,311.58 381.25,309.60 384.03,309.17"/><polygon class="st" points="390.31,307.13 391.58,309.64 394.36,310.07 392.36,312.05 392.81,314.82 390.31,313.53 387.82,314.82 388.27,312.05 386.27,310.07 389.05,309.64"/><polygon class="st" points="393.11,307.40 394.38,309.91 397.15,310.34 395.16,312.32 395.61,315.09 393.11,313.80 390.61,315.09 391.07,312.32 389.07,310.34 391.85,309.91"/><polygon class="st" points="398.38,306.86 399.65,309.37 402.43,309.79 400.43,311.77 400.88,314.55 398.38,313.26 395.89,314.55 396.34,311.77 394.34,309.79 397.12,309.37"/><polygon class="st" points="403.53,307.28 404.80,309.79 407.58,310.22 405.58,312.20 406.03,314.97 403.53,313.68 401.04,314.97 401.49,312.20 399.49,310.22 402.27,309.79"/><polygon class="st" points="407.31,307.45 408.57,309.96 411.35,310.39 409.35,312.37 409.81,315.14 407.31,313.85 404.81,315.14 405.26,312.37 403.27,310.39 406.04,309.96"/><polygon class="st" points="410.95,307.39 412.22,309.90 415.00,310.33 413.00,312.30 413.45,315.08 410.95,313.79 408.46,315.08 408.91,312.30 406.91,310.33 409.69,309.90"/><polygon class="st" points="413.95,307.16 415.21,309.67 417.99,310.09 415.99,312.07 416.45,314.84 413.95,313.56 411.45,314.84 411.90,312.07 409.91,310.09 412.69,309.67"/><polygon class="st" points="418.26,308.05 419.52,310.56 422.30,310.99 420.30,312.97 420.76,315.74 418.26,314.45 415.76,315.74 416.22,312.97 414.22,310.99 417.00,310.56"/><polygon class="st" points="421.83,307.96 423.09,310.48 425.87,310.90 423.87,312.88 424.33,315.65 421.83,314.36 419.33,315.65 419.78,312.88 417.79,310.90 420.56,310.48"/><polygon class="st" points="427.35,307.56 428.62,310.07 431.39,310.49 429.40,312.47 429.85,315.25 427.35,313.96 424.85,315.25 425.31,312.47 423.31,310.49 426.09,310.07"/><polygon class="st" points="430.82,306.40 432.09,308.91 434.87,309.33 432.87,311.31 433.32,314.09 430.82,312.80 428.33,314.09 428.78,311.31 426.78,309.33 429.56,308.91"/><polygon class="st" points="435.48,307.21 436.74,309.72 439.52,310.15 437.52,312.12 437.97,314.90 435.48,313.61 432.98,314.90 433.43,312.12 431.43,310.15 434.21,309.72"/><polygon class="st" points="438.44,307.22 439.70,309.73 442.48,310.16 440.48,312.14 440.94,314.91 438.44,313.62 435.94,314.91 436.39,312.14 434.40,310.16 437.17,309.73"/><polygon class="st" points="442.23,307.01 443.50,309.52 446.27,309.94 444.28,311.92 444.73,314.70 442.23,313.41 439.73,314.70 440.19,311.92 438.19,309.94 440.97,309.52"/><polygon class="st" points="447.72,307.87 448.98,310.38 451.76,310.81 449.76,312.79 450.21,315.56 447.72,314.27 445.22,315.56 445.67,312.79 443.67,310.81 446.45,310.38"/><polygon class="st" points="452.19,307.24 453.46,309.75 456.23,310.17 454.24,312.15 454.69,314.93 452.19,313.64 449.69,314.93 450.15,312.15 448.15,310.17 450.93,309.75"/><polygon class="st" points="455.92,306.44 457.19,308.95 459.97,309.38 457.97,311.35 458.42,314.13 455.92,312.84 453.43,314.13 453.88,311.35 451.88,309.38 454.66,308.95"/><polygon class="st" points="459.86,307.18 461.13,309.69 463.91,310.12 461.91,312.09 462.36,314.87 459.86,313.58 457.37,314.87 457.82,312.09 455.82,310.12 458.60,309.69"/><polygon class="st" points="463.95,307.54 465.21,310.05 467.99,310.47 465.99,312.45 466.44,315.23 463.95,313.94 461.45,315.23 461.90,312.45 459.90,310.47 462.68,310.05"/><polygon class="st" points="467.81,307.90 469.07,310.41 471.85,310.83 469.85,312.81 470.31,315.58 467.81,314.30 465.31,315.58 465.76,312.81 463.77,310.83 466.55,310.41"/></g><g class="m"><polygon class="tr" points="102.3,331.5 106.2,339.3 98.4,339.3"/><polygon class="tr" points="104.7,332.1 108.6,339.9 100.8,339.9"/><polygon class="tr" points="106.9,331.5 110.8,339.3 103.0,339.3"/><polygon class="tr" points="109.0,331.4 112.9,339.2 105.1,339.2"/><polygon class="tr" points="111.3,331.6 115.2,339.4 107.4,339.4"/><polygon class="tr" points="113.7,331.2 117.6,339.0 109.8,339.0"/><polygon class="tr" points="116.0,331.2 119.9,339.0 112.1,339.0"/><polygon class="tr" points="118.5,331.6 122.4,339.4 114.6,339.4"/><polygon class="tr" points="120.9,331.7 124.8,339.5 117.0,339.5"/><polygon class="tr" points="122.9,331.5 126.8,339.3 119.0,339.3"/><polygon class="tr" points="125.5,331.8 129.4,339.6 121.6,339.6"/><polygon class="tr" points="127.8,331.6 131.7,339.4 123.9,339.4"/><polygon class="tr" points="130.1,331.9 134.0,339.7 126.2,339.7"/><polygon class="tr" points="132.0,331.2 135.9,339.0 128.1,339.0"/><polygon class="tr" points="134.2,331.3 138.1,339.1 130.3,339.1"/><polygon class="tr" points="136.5,331.8 140.4,339.6 132.6,339.6"/><polygon class="tr" points="138.8,331.9 142.7,339.7 134.9,339.7"/><polygon class="tr" points="141.1,331.7 145.0,339.5 137.2,339.5"/><polygon class="tr" points="143.6,331.4 147.5,339.2 139.7,339.2"/><polygon class="tr" points="146.0,331.6 149.9,339.4 142.1,339.4"/><polygon class="tr" points="148.3,331.5 152.2,339.3 144.4,339.3"/><polygon class="tr" points="150.4,331.5 154.3,339.3 146.5,339.3"/><polygon class="tr" points="152.8,331.6 156.7,339.4 148.9,339.4"/><polygon class="tr" points="155.1,331.6 159.0,339.4 151.2,339.4"/><polygon class="tr" points="157.0,331.6 160.9,339.4 153.1,339.4"/><polygon class="tr" points="159.6,331.6 163.5,339.4 155.7,339.4"/><polygon class="tr" points="162.0,331.7 165.9,339.5 158.1,339.5"/><polygon class="tr" points="164.3,331.3 168.2,339.1 160.4,339.1"/><polygon class="tr" points="166.5,331.4 170.4,339.2 162.6,339.2"/><polygon class="tr" points="168.7,331.9 172.6,339.7 164.8,339.7"/><polygon class="tr" points="170.8,331.8 174.7,339.6 166.9,339.6"/><polygon class="tr" points="173.4,331.8 177.3,339.6 169.5,339.6"/><polygon class="tr" points="175.4,331.7 179.3,339.5 171.5,339.5"/><polygon class="tr" points="178.0,331.7 181.9,339.5 174.1,339.5"/><polygon class="tr" points="180.3,331.4 184.2,339.2 176.4,339.2"/><polygon class="tr" points="182.3,331.8 186.2,339.6 178.4,339.6"/><polygon class="tr" points="184.6,331.6 188.5,339.4 180.7,339.4"/><polygon class="tr" points="187.2,332.0 191.1,339.8 183.3,339.8"/><polygon class="tr" points="189.4,331.1 193.3,338.9 185.5,338.9"/><polygon class="tr" points="191.3,331.7 195.2,339.5 187.4,339.5"/><polygon class="tr" points="193.6,331.3 197.5,339.1 189.7,339.1"/><polygon class="tr" points="195.9,331.6 199.8,339.4 192.0,339.4"/><polygon class="tr" points="198.6,331.7 202.5,339.5 194.7,339.5"/><polygon class="tr" points="200.8,332.1 204.7,339.9 196.9,339.9"/><polygon class="tr" points="202.7,331.4 206.6,339.2 198.8,339.2"/><polygon class="tr" points="205.4,331.9 209.3,339.7 201.5,339.7"/><polygon class="tr" points="207.8,331.6 211.7,339.4 203.9,339.4"/><polygon class="tr" points="209.9,331.1 213.8,338.9 206.0,338.9"/><polygon class="tr" points="212.0,331.8 215.9,339.6 208.1,339.6"/><polygon class="tr" points="214.4,331.5 218.3,339.3 210.5,339.3"/><polygon class="tr" points="216.4,331.7 220.3,339.5 212.5,339.5"/><polygon class="tr" points="218.7,331.7 222.6,339.5 214.8,339.5"/><polygon class="tr" points="221.5,331.4 225.4,339.2 217.6,339.2"/><polygon class="tr" points="223.6,331.6 227.5,339.4 219.7,339.4"/><polygon class="tr" points="225.8,331.9 229.7,339.7 221.9,339.7"/><polygon class="tr" points="228.3,331.8 232.2,339.6 224.4,339.6"/><polygon class="tr" points="230.3,331.9 234.2,339.7 226.4,339.7"/><polygon class="tr" points="232.8,331.6 236.7,339.4 228.9,339.4"/><polygon class="tr" points="235.1,331.7 239.0,339.5 231.2,339.5"/><polygon class="tr" points="237.0,331.5 240.9,339.3 233.1,339.3"/><polygon class="tr" points="239.4,331.7 243.3,339.5 235.5,339.5"/><polygon class="tr" points="241.7,331.4 245.6,339.2 237.8,339.2"/><polygon class="tr" points="243.9,331.8 247.8,339.6 240.0,339.6"/><polygon class="tr" points="246.4,331.5 250.3,339.3 242.5,339.3"/><polygon class="tr" points="248.5,331.5 252.4,339.3 244.6,339.3"/><polygon class="tr" points="250.9,331.8 254.8,339.6 247.0,339.6"/><polygon class="tr" points="253.0,331.6 256.9,339.4 249.1,339.4"/><polygon class="tr" points="255.7,331.9 259.6,339.7 251.8,339.7"/><polygon class="tr" points="257.7,331.6 261.6,339.4 253.8,339.4"/><polygon class="tr" points="260.0,331.5 263.9,339.3 256.1,339.3"/><polygon class="tr" points="262.4,331.4 266.3,339.2 258.5,339.2"/><polygon class="tr" points="264.8,331.5 268.7,339.3 260.9,339.3"/><polygon class="tr" points="266.9,331.6 270.8,339.4 263.0,339.4"/><polygon class="tr" points="269.4,331.5 273.3,339.3 265.5,339.3"/><polygon class="tr" points="271.5,331.6 275.4,339.4 267.6,339.4"/><polygon class="tr" points="273.8,331.5 277.7,339.3 269.9,339.3"/><polygon class="tr" points="276.1,331.6 280.0,339.4 272.2,339.4"/><polygon class="tr" points="278.1,331.8 282.0,339.6 274.2,339.6"/><polygon class="tr" points="280.6,331.6 284.5,339.4 276.7,339.4"/><polygon class="tr" points="282.7,331.6 286.6,339.4 278.8,339.4"/><polygon class="tr" points="284.9,331.6 288.8,339.4 281.0,339.4"/><polygon class="tr" points="287.6,331.9 291.5,339.7 283.7,339.7"/><polygon class="tr" points="289.6,331.6 293.5,339.4 285.7,339.4"/><polygon class="tr" points="292.0,331.8 295.9,339.6 288.1,339.6"/><polygon class="tr" points="294.4,331.9 298.3,339.7 290.5,339.7"/><polygon class="tr" points="296.6,331.3 300.5,339.1 292.7,339.1"/><polygon class="tr" points="298.8,331.9 302.7,339.7 294.9,339.7"/><polygon class="tr" points="301.2,331.8 305.1,339.6 297.3,339.6"/><polygon class="tr" points="303.5,331.3 307.4,339.1 299.6,339.1"/><polygon class="tr" points="305.9,331.7 309.8,339.5 302.0,339.5"/><polygon class="tr" points="307.8,331.7 311.7,339.5 303.9,339.5"/><polygon class="tr" points="310.4,331.7 314.3,339.5 306.5,339.5"/><polygon class="tr" points="312.5,331.9 316.4,339.7 308.6,339.7"/><polygon class="tr" points="314.8,331.6 318.7,339.4 310.9,339.4"/><polygon class="tr" points="317.3,331.5 321.2,339.3 313.4,339.3"/><polygon class="tr" points="319.5,331.7 323.4,339.5 315.6,339.5"/><polygon class="tr" points="321.8,331.8 325.7,339.6 317.9,339.6"/><polygon class="tr" points="324.2,331.5 328.1,339.3 320.3,339.3"/><polygon class="tr" points="326.5,331.8 330.4,339.6 322.6,339.6"/><polygon class="tr" points="328.6,331.5 332.5,339.3 324.7,339.3"/><polygon class="tr" points="330.9,331.4 334.8,339.2 327.0,339.2"/><polygon class="tr" points="333.2,331.6 337.1,339.4 329.3,339.4"/><polygon class="tr" points="335.5,331.4 339.4,339.2 331.6,339.2"/><polygon class="tr" points="337.8,331.9 341.7,339.7 333.9,339.7"/><polygon class="tr" points="340.0,331.4 343.9,339.2 336.1,339.2"/><polygon class="tr" points="342.3,331.8 346.2,339.6 338.4,339.6"/><polygon class="tr" points="344.6,331.7 348.5,339.5 340.7,339.5"/><polygon class="tr" points="347.1,331.6 351.0,339.4 343.2,339.4"/><polygon class="tr" points="349.3,331.7 353.2,339.5 345.4,339.5"/><polygon class="tr" points="351.6,331.7 355.5,339.5 347.7,339.5"/><polygon class="tr" points="354.0,331.8 357.9,339.6 350.1,339.6"/><polygon class="tr" points="355.9,331.4 359.8,339.2 352.0,339.2"/><polygon class="tr" points="358.3,331.7 362.2,339.5 354.4,339.5"/><polygon class="tr" points="360.8,331.9 364.7,339.7 356.9,339.7"/><polygon class="tr" points="363.1,331.9 367.0,339.7 359.2,339.7"/><polygon class="tr" points="365.0,331.6 368.9,339.4 361.1,339.4"/><polygon class="tr" points="367.2,331.5 371.1,339.3 363.3,339.3"/><polygon class="tr" points="369.7,331.6 373.6,339.4 365.8,339.4"/><polygon class="tr" points="371.8,331.5 375.7,339.3 367.9,339.3"/><polygon class="tr" points="374.1,331.9 378.0,339.7 370.2,339.7"/><polygon class="tr" points="376.3,331.6 380.2,339.4 372.4,339.4"/><polygon class="tr" points="379.0,331.9 382.9,339.7 375.1,339.7"/><polygon class="tr" points="381.3,332.0 385.2,339.8 377.4,339.8"/><polygon class="tr" points="383.6,332.0 387.5,339.8 379.7,339.8"/><polygon class="tr" points="385.5,331.8 389.4,339.6 381.6,339.6"/><polygon class="tr" points="388.1,331.5 392.0,339.3 384.2,339.3"/><polygon class="tr" points="390.4,331.8 394.3,339.6 386.5,339.6"/><polygon class="tr" points="392.4,331.6 396.3,339.4 388.5,339.4"/><polygon class="tr" points="395.1,331.7 399.0,339.5 391.2,339.5"/><polygon class="tr" points="397.4,331.5 401.3,339.3 393.5,339.3"/><polygon class="tr" points="399.3,331.5 403.2,339.3 395.4,339.3"/><polygon class="tr" points="402.0,331.5 405.9,339.3 398.1,339.3"/><polygon class="tr" points="403.9,331.5 407.8,339.3 400.0,339.3"/><polygon class="tr" points="406.3,331.9 410.2,339.7 402.4,339.7"/><polygon class="tr" points="408.8,331.5 412.7,339.3 404.9,339.3"/><polygon class="tr" points="411.0,331.5 414.9,339.3 407.1,339.3"/><polygon class="tr" points="412.9,331.6 416.8,339.4 409.0,339.4"/><polygon class="tr" points="415.4,331.8 419.3,339.6 411.5,339.6"/><polygon class="tr" points="417.7,332.2 421.6,340.0 413.8,340.0"/><polygon class="tr" points="419.9,331.5 423.8,339.3 416.0,339.3"/><polygon class="tr" points="422.1,331.4 426.0,339.2 418.2,339.2"/><polygon class="tr" points="424.5,331.9 428.4,339.7 420.6,339.7"/><polygon class="tr" points="427.0,331.7 430.9,339.5 423.1,339.5"/><polygon class="tr" points="428.9,331.9 432.8,339.7 425.0,339.7"/><polygon class="tr" points="431.4,331.6 435.3,339.4 427.5,339.4"/><polygon class="tr" points="433.7,331.5 437.6,339.3 429.8,339.3"/><polygon class="tr" points="435.7,331.6 439.6,339.4 431.8,339.4"/><polygon class="tr" points="438.2,331.8 442.1,339.6 434.3,339.6"/><polygon class="tr" points="440.6,331.7 444.5,339.5 436.7,339.5"/><polygon class="tr" points="442.8,331.5 446.7,339.3 438.9,339.3"/><polygon class="tr" points="444.9,331.9 448.8,339.7 441.0,339.7"/><polygon class="tr" points="447.7,331.6 451.6,339.4 443.8,339.4"/><polygon class="tr" points="449.8,331.7 453.7,339.5 445.9,339.5"/><polygon class="tr" points="452.2,331.7 456.1,339.5 448.3,339.5"/><polygon class="tr" points="454.0,331.5 457.9,339.3 450.1,339.3"/><polygon class="tr" points="456.4,331.9 460.3,339.7 452.5,339.7"/><polygon class="tr" points="458.6,331.6 462.5,339.4 454.7,339.4"/><polygon class="tr" points="461.3,331.5 465.2,339.3 457.4,339.3"/><polygon class="tr" points="463.3,331.7 467.2,339.5 459.4,339.5"/><polygon class="tr" points="465.5,331.3 469.4,339.1 461.6,339.1"/><polygon class="tr" points="467.9,331.4 471.8,339.2 464.0,339.2"/></g><g class="m"><circle cx="103.4" cy="361.2" r="3.85"/><circle cx="107.2" cy="359.7" r="3.85"/><circle cx="109.9" cy="362.5" r="3.85"/><circle cx="113.7" cy="362.0" r="3.85"/><circle cx="119.6" cy="360.1" r="3.85"/><circle cx="122.9" cy="360.8" r="3.85"/><circle cx="127.2" cy="360.7" r="3.85"/><circle cx="129.8" cy="361.4" r="3.85"/><circle cx="133.8" cy="360.8" r="3.85"/><circle cx="139.4" cy="360.1" r="3.85"/><circle cx="142.8" cy="361.7" r="3.85"/><circle cx="146.0" cy="360.1" r="3.85"/><circle cx="180.5" cy="359.2" r="3.85"/><circle cx="183.8" cy="362.0" r="3.85"/><circle cx="188.3" cy="361.4" r="3.85"/><circle cx="190.6" cy="359.6" r="3.85"/><circle cx="196.5" cy="360.9" r="3.85"/><circle cx="198.6" cy="359.3" r="3.85"/><circle cx="204.6" cy="361.4" r="3.85"/><circle cx="207.7" cy="361.3" r="3.85"/><circle cx="211.5" cy="361.6" r="3.85"/><circle cx="216.0" cy="361.3" r="3.85"/><circle cx="221.0" cy="359.1" r="3.85"/><circle cx="223.5" cy="359.4" r="3.85"/><circle cx="227.2" cy="362.6" r="3.85"/><circle cx="232.2" cy="361.9" r="3.85"/><circle cx="235.5" cy="360.9" r="3.85"/><circle cx="239.3" cy="358.5" r="3.85"/><circle cx="243.5" cy="363.5" r="3.85"/><circle cx="247.2" cy="361.1" r="3.85"/><circle cx="251.7" cy="363.1" r="3.85"/><circle cx="256.0" cy="360.3" r="3.85"/><circle cx="260.0" cy="363.3" r="3.85"/><circle cx="265.2" cy="361.8" r="3.85"/><circle cx="268.1" cy="360.0" r="3.85"/><circle cx="272.7" cy="359.3" r="3.85"/><circle cx="275.9" cy="360.8" r="3.85"/><circle cx="280.4" cy="359.4" r="3.85"/><circle cx="283.6" cy="360.0" r="3.85"/><circle cx="288.3" cy="359.4" r="3.85"/><circle cx="291.7" cy="361.8" r="3.85"/><circle cx="297.5" cy="360.6" r="3.85"/><circle cx="301.2" cy="360.6" r="3.85"/><circle cx="304.3" cy="361.1" r="3.85"/><circle cx="309.1" cy="360.5" r="3.85"/><circle cx="314.3" cy="361.2" r="3.85"/><circle cx="316.3" cy="361.5" r="3.85"/><circle cx="322.1" cy="359.6" r="3.85"/><circle cx="325.2" cy="360.5" r="3.85"/><circle cx="329.4" cy="360.4" r="3.85"/><circle cx="334.3" cy="358.9" r="3.85"/><circle cx="337.3" cy="360.7" r="3.85"/><circle cx="341.6" cy="359.0" r="3.85"/><circle cx="346.1" cy="360.8" r="3.85"/><circle cx="350.8" cy="361.6" r="3.85"/><circle cx="353.3" cy="361.5" r="3.85"/><circle cx="358.6" cy="359.4" r="3.85"/><circle cx="362.3" cy="359.4" r="3.85"/><circle cx="366.2" cy="361.6" r="3.85"/><circle cx="369.7" cy="362.2" r="3.85"/><circle cx="373.6" cy="362.1" r="3.85"/><circle cx="377.0" cy="361.1" r="3.85"/><circle cx="381.2" cy="362.0" r="3.85"/><circle cx="385.1" cy="359.8" r="3.85"/><circle cx="390.8" cy="363.9" r="3.85"/><circle cx="393.7" cy="360.9" r="3.85"/><circle cx="397.5" cy="360.8" r="3.85"/><circle cx="401.4" cy="361.7" r="3.85"/><circle cx="407.3" cy="359.9" r="3.85"/><circle cx="411.4" cy="359.5" r="3.85"/><circle cx="414.9" cy="363.4" r="3.85"/><circle cx="418.1" cy="362.3" r="3.85"/><circle cx="422.0" cy="361.1" r="3.85"/><circle cx="426.2" cy="363.0" r="3.85"/><circle cx="430.6" cy="361.0" r="3.85"/><circle cx="434.0" cy="361.1" r="3.85"/><circle cx="438.7" cy="360.2" r="3.85"/><circle cx="442.3" cy="361.0" r="3.85"/><circle cx="448.1" cy="360.2" r="3.85"/><circle cx="452.2" cy="360.6" r="3.85"/><circle cx="455.2" cy="362.9" r="3.85"/><circle cx="458.5" cy="361.0" r="3.85"/><circle cx="464.3" cy="360.6" r="3.85"/><circle cx="466.8" cy="359.1" r="3.85"/><circle cx="168.4" cy="359.3" r="3.85"/></g>
<text x="54.8" y="12.3" text-anchor="end" font-size="16">-5.5</text><text x="54.8" y="75.7" text-anchor="end" font-size="16">-5.0</text><text x="54.8" y="139.0" text-anchor="end" font-size="16">-4.5</text><text x="54.8" y="202.3" text-anchor="end" font-size="16">-4.0</text><text x="54.8" y="265.7" text-anchor="end" font-size="16">-3.5</text><text x="54.8" y="329.1" text-anchor="end" font-size="16">-3.0</text><text x="54.8" y="392.4" text-anchor="end" font-size="16">-2.5</text><text x="100.3" y="421.3" text-anchor="middle" font-size="16.4">0.0</text><text x="174.0" y="421.3" text-anchor="middle" font-size="16.4">0.2</text><text x="247.7" y="421.3" text-anchor="middle" font-size="16.4">0.4</text><text x="321.4" y="421.3" text-anchor="middle" font-size="16.4">0.6</text><text x="395.1" y="421.3" text-anchor="middle" font-size="16.4">0.8</text><text x="468.8" y="421.3" text-anchor="middle" font-size="16.4">1.0</text><text x="542.5" y="421.3" text-anchor="middle" font-size="16.4">1.2</text><text x="330.8" y="452" text-anchor="middle" font-size="20">Phase</text><text transform="translate(13.1,217.4) rotate(-90)" text-anchor="middle" font-size="17.5">Δm</text><path d="M180,34.7 H228.8" stroke="#000" stroke-width="1.8"/><text x="234.2" y="41.6" font-size="21.35">Theoretical light curves</text><text x="487.5" y="152.5" font-size="20">I-0.6</text><text x="487.5" y="184.3" font-size="20">R-0.4</text><text x="486.6" y="222.2" font-size="20">V-0.2</text><text x="486.6" y="263.5" font-size="20">B</text><text x="476" y="289" font-size="19.2">(O-C):I-3.3</text><text x="477" y="317.6" font-size="19.2">(O-C):R-3.2</text><text x="477" y="341.6" font-size="19.2">(O-C):V-3.1</text><text x="477" y="369" font-size="19.2">(O-C):B-3.0</text>
</svg>
</body></html>
